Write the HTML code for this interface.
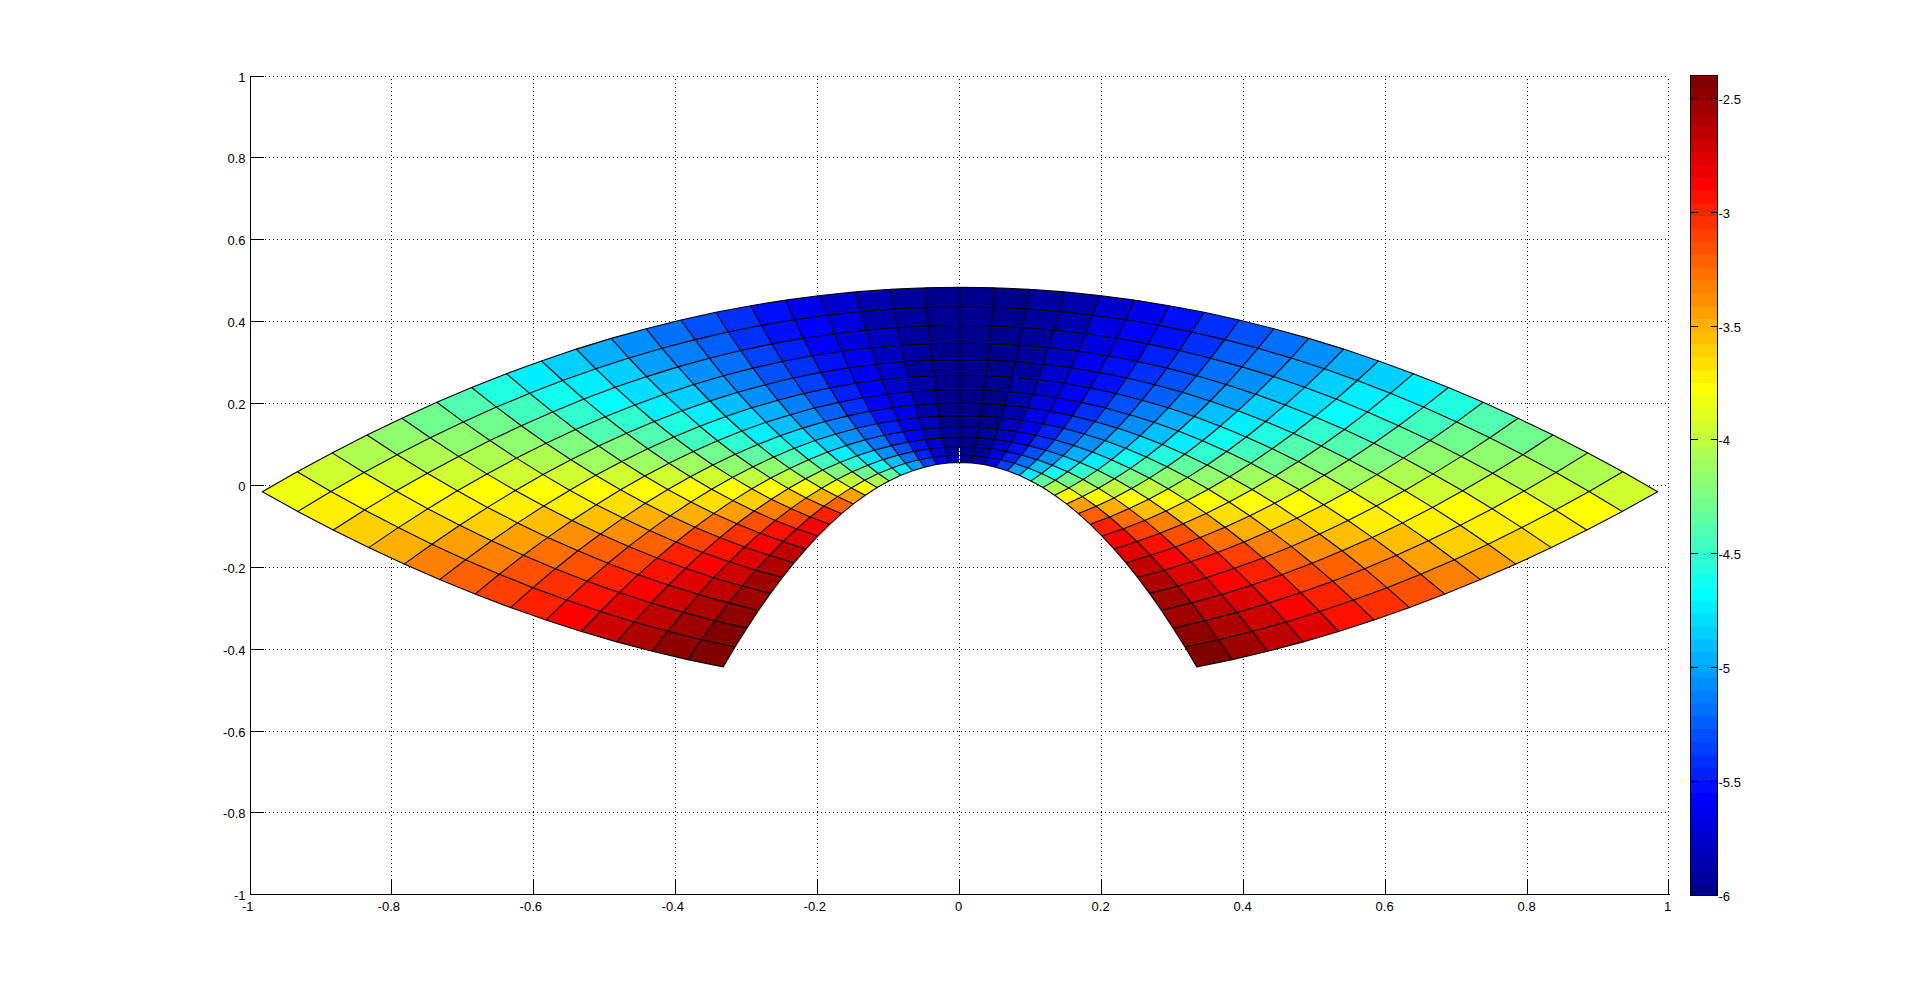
<!DOCTYPE html><html><head><meta charset="utf-8"><title>Figure</title><style>html,body{margin:0;padding:0;background:#fff}body{width:1921px;height:1004px;overflow:hidden;font-family:"Liberation Sans",sans-serif}svg{display:block}text{font-family:"Liberation Sans",sans-serif;font-size:13px;fill:#000}</style></head><body>
<svg width="1921" height="1004" viewBox="0 0 1921 1004">
<rect width="1921" height="1004" fill="#fff"/>
<path d="M391.5 79.0V879.5M533.5 79.0V879.5M675.5 79.0V879.5M817.5 79.0V879.5M959.5 79.0V879.5M1101.5 79.0V879.5M1243.5 79.0V879.5M1385.5 79.0V879.5M1527.5 79.0V879.5M1668.5 79.0V879.5M265.0 76.5H1668.5M265.0 157.5H1668.5M265.0 239.5H1668.5M265.0 321.5H1668.5M265.0 403.5H1668.5M265.0 485.5H1668.5M265.0 567.5H1668.5M265.0 649.5H1668.5M265.0 731.5H1668.5M265.0 812.5H1668.5" stroke="#000" stroke-width="1" stroke-dasharray="1 3" fill="none" shape-rendering="crispEdges"/>
<g stroke="none"><polygon points="723.2,667.0 735.0,647.0 701.4,639.7 687.7,659.6" fill="#800000"/><polygon points="735.0,647.0 746.9,628.1 715.0,620.8 701.4,639.7" fill="#800000"/><polygon points="746.9,628.1 758.7,610.2 728.6,602.9 715.0,620.8" fill="#8f0000"/><polygon points="758.7,610.2 770.5,593.4 742.2,586.0 728.6,602.9" fill="#9f0000"/><polygon points="770.5,593.4 782.4,577.5 755.8,570.2 742.2,586.0" fill="#9f0000"/><polygon points="782.4,577.5 794.2,562.7 769.4,555.3 755.8,570.2" fill="#af0000"/><polygon points="794.2,562.7 806.1,548.9 783.0,541.5 769.4,555.3" fill="#bf0000"/><polygon points="806.1,548.9 817.9,536.1 796.6,528.8 783.0,541.5" fill="#df0000"/><polygon points="817.9,536.1 829.8,524.3 810.3,517.0 796.6,528.8" fill="#ff0000"/><polygon points="829.8,524.3 841.6,513.6 823.9,506.3 810.3,517.0" fill="#ff2000"/><polygon points="841.6,513.6 853.4,503.9 837.5,496.6 823.9,506.3" fill="#ff6000"/><polygon points="853.4,503.9 865.3,495.2 851.1,487.9 837.5,496.6" fill="#ff9f00"/><polygon points="865.3,495.2 877.1,487.5 864.7,480.2 851.1,487.9" fill="#ffff00"/><polygon points="877.1,487.5 889.0,480.9 878.3,473.5 864.7,480.2" fill="#afff50"/><polygon points="889.0,480.9 900.8,475.3 891.9,467.9 878.3,473.5" fill="#60ff9f"/><polygon points="900.8,475.3 912.6,470.7 905.5,463.3 891.9,467.9" fill="#00efff"/><polygon points="912.6,470.7 924.5,467.1 919.2,459.7 905.5,463.3" fill="#009fff"/><polygon points="924.5,467.1 936.3,464.5 932.8,457.2 919.2,459.7" fill="#0040ff"/><polygon points="936.3,464.5 948.2,463.0 946.4,455.7 932.8,457.2" fill="#0000ef"/><polygon points="948.2,463.0 960.0,462.5 960.0,455.1 946.4,455.7" fill="#0000af"/><polygon points="960.0,462.5 971.8,463.0 973.6,455.7 960.0,455.1" fill="#00008f"/><polygon points="971.8,463.0 983.7,464.5 987.2,457.2 973.6,455.7" fill="#0000af"/><polygon points="983.7,464.5 995.5,467.1 1000.8,459.7 987.2,457.2" fill="#0000ef"/><polygon points="995.5,467.1 1007.4,470.7 1014.5,463.3 1000.8,459.7" fill="#0040ff"/><polygon points="1007.4,470.7 1019.2,475.3 1028.1,467.9 1014.5,463.3" fill="#009fff"/><polygon points="1019.2,475.3 1031.0,480.9 1041.7,473.5 1028.1,467.9" fill="#00efff"/><polygon points="1031.0,480.9 1042.9,487.5 1055.3,480.2 1041.7,473.5" fill="#60ff9f"/><polygon points="1042.9,487.5 1054.7,495.2 1068.9,487.9 1055.3,480.2" fill="#afff50"/><polygon points="1054.7,495.2 1066.6,503.9 1082.5,496.6 1068.9,487.9" fill="#ffff00"/><polygon points="1066.6,503.9 1078.4,513.6 1096.1,506.3 1082.5,496.6" fill="#ff9f00"/><polygon points="1078.4,513.6 1090.2,524.3 1109.7,517.0 1096.1,506.3" fill="#ff6000"/><polygon points="1090.2,524.3 1102.1,536.1 1123.4,528.8 1109.7,517.0" fill="#ff2000"/><polygon points="1102.1,536.1 1113.9,548.9 1137.0,541.5 1123.4,528.8" fill="#ff0000"/><polygon points="1113.9,548.9 1125.8,562.7 1150.6,555.3 1137.0,541.5" fill="#df0000"/><polygon points="1125.8,562.7 1137.6,577.5 1164.2,570.2 1150.6,555.3" fill="#bf0000"/><polygon points="1137.6,577.5 1149.5,593.4 1177.8,586.0 1164.2,570.2" fill="#af0000"/><polygon points="1149.5,593.4 1161.3,610.2 1191.4,602.9 1177.8,586.0" fill="#9f0000"/><polygon points="1161.3,610.2 1173.1,628.1 1205.0,620.8 1191.4,602.9" fill="#9f0000"/><polygon points="1173.1,628.1 1185.0,647.0 1218.6,639.7 1205.0,620.8" fill="#8f0000"/><polygon points="1185.0,647.0 1196.8,667.0 1232.3,659.6 1218.6,639.7" fill="#800000"/><polygon points="687.7,659.6 701.4,639.7 667.7,631.3 652.3,651.3" fill="#8f0000"/><polygon points="701.4,639.7 715.0,620.8 683.1,612.4 667.7,631.3" fill="#9f0000"/><polygon points="715.0,620.8 728.6,602.9 698.4,594.5 683.1,612.4" fill="#af0000"/><polygon points="728.6,602.9 742.2,586.0 713.8,577.7 698.4,594.5" fill="#bf0000"/><polygon points="742.2,586.0 755.8,570.2 729.2,561.8 713.8,577.7" fill="#cf0000"/><polygon points="755.8,570.2 769.4,555.3 744.6,547.0 729.2,561.8" fill="#df0000"/><polygon points="769.4,555.3 783.0,541.5 760.0,533.2 744.6,547.0" fill="#ff0000"/><polygon points="783.0,541.5 796.6,528.8 775.4,520.4 760.0,533.2" fill="#ff1000"/><polygon points="796.6,528.8 810.3,517.0 790.8,508.6 775.4,520.4" fill="#ff4000"/><polygon points="810.3,517.0 823.9,506.3 806.1,497.9 790.8,508.6" fill="#ff7000"/><polygon points="823.9,506.3 837.5,496.6 821.5,488.2 806.1,497.9" fill="#ffaf00"/><polygon points="837.5,496.6 851.1,487.9 836.9,479.5 821.5,488.2" fill="#ffff00"/><polygon points="851.1,487.9 864.7,480.2 852.3,471.8 836.9,479.5" fill="#bfff40"/><polygon points="864.7,480.2 878.3,473.5 867.7,465.2 852.3,471.8" fill="#70ff8f"/><polygon points="878.3,473.5 891.9,467.9 883.1,459.6 867.7,465.2" fill="#10ffef"/><polygon points="891.9,467.9 905.5,463.3 898.5,455.0 883.1,459.6" fill="#00bfff"/><polygon points="905.5,463.3 919.2,459.7 913.8,451.4 898.5,455.0" fill="#0070ff"/><polygon points="919.2,459.7 932.8,457.2 929.2,448.8 913.8,451.4" fill="#0020ff"/><polygon points="932.8,457.2 946.4,455.7 944.6,447.3 929.2,448.8" fill="#0000df"/><polygon points="946.4,455.7 960.0,455.1 960.0,446.8 944.6,447.3" fill="#00009f"/><polygon points="960.0,455.1 973.6,455.7 975.4,447.3 960.0,446.8" fill="#00008f"/><polygon points="973.6,455.7 987.2,457.2 990.8,448.8 975.4,447.3" fill="#00009f"/><polygon points="987.2,457.2 1000.8,459.7 1006.2,451.4 990.8,448.8" fill="#0000df"/><polygon points="1000.8,459.7 1014.5,463.3 1021.5,455.0 1006.2,451.4" fill="#0020ff"/><polygon points="1014.5,463.3 1028.1,467.9 1036.9,459.6 1021.5,455.0" fill="#0070ff"/><polygon points="1028.1,467.9 1041.7,473.5 1052.3,465.2 1036.9,459.6" fill="#00bfff"/><polygon points="1041.7,473.5 1055.3,480.2 1067.7,471.8 1052.3,465.2" fill="#10ffef"/><polygon points="1055.3,480.2 1068.9,487.9 1083.1,479.5 1067.7,471.8" fill="#70ff8f"/><polygon points="1068.9,487.9 1082.5,496.6 1098.5,488.2 1083.1,479.5" fill="#bfff40"/><polygon points="1082.5,496.6 1096.1,506.3 1113.9,497.9 1098.5,488.2" fill="#ffff00"/><polygon points="1096.1,506.3 1109.7,517.0 1129.2,508.6 1113.9,497.9" fill="#ffaf00"/><polygon points="1109.7,517.0 1123.4,528.8 1144.6,520.4 1129.2,508.6" fill="#ff7000"/><polygon points="1123.4,528.8 1137.0,541.5 1160.0,533.2 1144.6,520.4" fill="#ff4000"/><polygon points="1137.0,541.5 1150.6,555.3 1175.4,547.0 1160.0,533.2" fill="#ff1000"/><polygon points="1150.6,555.3 1164.2,570.2 1190.8,561.8 1175.4,547.0" fill="#ff0000"/><polygon points="1164.2,570.2 1177.8,586.0 1206.2,577.7 1190.8,561.8" fill="#df0000"/><polygon points="1177.8,586.0 1191.4,602.9 1221.6,594.5 1206.2,577.7" fill="#cf0000"/><polygon points="1191.4,602.9 1205.0,620.8 1236.9,612.4 1221.6,594.5" fill="#bf0000"/><polygon points="1205.0,620.8 1218.6,639.7 1252.3,631.3 1236.9,612.4" fill="#af0000"/><polygon points="1218.6,639.7 1232.3,659.6 1267.7,651.3 1252.3,631.3" fill="#9f0000"/><polygon points="652.3,651.3 667.7,631.3 634.0,622.0 616.8,641.9" fill="#af0000"/><polygon points="667.7,631.3 683.1,612.4 651.2,603.0 634.0,622.0" fill="#bf0000"/><polygon points="683.1,612.4 698.4,594.5 668.3,585.1 651.2,603.0" fill="#cf0000"/><polygon points="698.4,594.5 713.8,577.7 685.5,568.3 668.3,585.1" fill="#df0000"/><polygon points="713.8,577.7 729.2,561.8 702.6,552.4 685.5,568.3" fill="#ff0000"/><polygon points="729.2,561.8 744.6,547.0 719.8,537.6 702.6,552.4" fill="#ff1000"/><polygon points="744.6,547.0 760.0,533.2 736.9,523.8 719.8,537.6" fill="#ff3000"/><polygon points="760.0,533.2 775.4,520.4 754.1,511.0 736.9,523.8" fill="#ff5000"/><polygon points="775.4,520.4 790.8,508.6 771.3,499.3 754.1,511.0" fill="#ff8000"/><polygon points="790.8,508.6 806.1,497.9 788.4,488.5 771.3,499.3" fill="#ffbf00"/><polygon points="806.1,497.9 821.5,488.2 805.6,478.8 788.4,488.5" fill="#ffff00"/><polygon points="821.5,488.2 836.9,479.5 822.7,470.1 805.6,478.8" fill="#bfff40"/><polygon points="836.9,479.5 852.3,471.8 839.9,462.4 822.7,470.1" fill="#80ff80"/><polygon points="852.3,471.8 867.7,465.2 857.1,455.8 839.9,462.4" fill="#30ffcf"/><polygon points="867.7,465.2 883.1,459.6 874.2,450.2 857.1,455.8" fill="#00dfff"/><polygon points="883.1,459.6 898.5,455.0 891.4,445.6 874.2,450.2" fill="#008fff"/><polygon points="898.5,455.0 913.8,451.4 908.5,442.0 891.4,445.6" fill="#0050ff"/><polygon points="913.8,451.4 929.2,448.8 925.7,439.4 908.5,442.0" fill="#0010ff"/><polygon points="929.2,448.8 944.6,447.3 942.8,437.9 925.7,439.4" fill="#0000cf"/><polygon points="944.6,447.3 960.0,446.8 960.0,437.4 942.8,437.9" fill="#00009f"/><polygon points="960.0,446.8 975.4,447.3 977.2,437.9 960.0,437.4" fill="#00008f"/><polygon points="975.4,447.3 990.8,448.8 994.3,439.4 977.2,437.9" fill="#00009f"/><polygon points="990.8,448.8 1006.2,451.4 1011.5,442.0 994.3,439.4" fill="#0000cf"/><polygon points="1006.2,451.4 1021.5,455.0 1028.6,445.6 1011.5,442.0" fill="#0010ff"/><polygon points="1021.5,455.0 1036.9,459.6 1045.8,450.2 1028.6,445.6" fill="#0050ff"/><polygon points="1036.9,459.6 1052.3,465.2 1062.9,455.8 1045.8,450.2" fill="#008fff"/><polygon points="1052.3,465.2 1067.7,471.8 1080.1,462.4 1062.9,455.8" fill="#00dfff"/><polygon points="1067.7,471.8 1083.1,479.5 1097.3,470.1 1080.1,462.4" fill="#30ffcf"/><polygon points="1083.1,479.5 1098.5,488.2 1114.4,478.8 1097.3,470.1" fill="#80ff80"/><polygon points="1098.5,488.2 1113.9,497.9 1131.6,488.5 1114.4,478.8" fill="#bfff40"/><polygon points="1113.9,497.9 1129.2,508.6 1148.7,499.3 1131.6,488.5" fill="#ffff00"/><polygon points="1129.2,508.6 1144.6,520.4 1165.9,511.0 1148.7,499.3" fill="#ffbf00"/><polygon points="1144.6,520.4 1160.0,533.2 1183.1,523.8 1165.9,511.0" fill="#ff8000"/><polygon points="1160.0,533.2 1175.4,547.0 1200.2,537.6 1183.1,523.8" fill="#ff5000"/><polygon points="1175.4,547.0 1190.8,561.8 1217.4,552.4 1200.2,537.6" fill="#ff3000"/><polygon points="1190.8,561.8 1206.2,577.7 1234.5,568.3 1217.4,552.4" fill="#ff1000"/><polygon points="1206.2,577.7 1221.6,594.5 1251.7,585.1 1234.5,568.3" fill="#ff0000"/><polygon points="1221.6,594.5 1236.9,612.4 1268.8,603.0 1251.7,585.1" fill="#df0000"/><polygon points="1236.9,612.4 1252.3,631.3 1286.0,622.0 1268.8,603.0" fill="#cf0000"/><polygon points="1252.3,631.3 1267.7,651.3 1303.2,641.9 1286.0,622.0" fill="#bf0000"/><polygon points="616.8,641.9 634.0,622.0 600.3,611.5 581.4,631.5" fill="#cf0000"/><polygon points="634.0,622.0 651.2,603.0 619.2,592.6 600.3,611.5" fill="#df0000"/><polygon points="651.2,603.0 668.3,585.1 638.2,574.7 619.2,592.6" fill="#ff0000"/><polygon points="668.3,585.1 685.5,568.3 657.1,557.9 638.2,574.7" fill="#ff1000"/><polygon points="685.5,568.3 702.6,552.4 676.0,542.0 657.1,557.9" fill="#ff2000"/><polygon points="702.6,552.4 719.8,537.6 695.0,527.2 676.0,542.0" fill="#ff4000"/><polygon points="719.8,537.6 736.9,523.8 713.9,513.4 695.0,527.2" fill="#ff7000"/><polygon points="736.9,523.8 754.1,511.0 732.8,500.6 713.9,513.4" fill="#ff9f00"/><polygon points="754.1,511.0 771.3,499.3 751.8,488.8 732.8,500.6" fill="#ffcf00"/><polygon points="771.3,499.3 788.4,488.5 770.7,478.1 751.8,488.8" fill="#ffff00"/><polygon points="788.4,488.5 805.6,478.8 789.6,468.4 770.7,478.1" fill="#bfff40"/><polygon points="805.6,478.8 822.7,470.1 808.6,459.7 789.6,468.4" fill="#80ff80"/><polygon points="822.7,470.1 839.9,462.4 827.5,452.0 808.6,459.7" fill="#40ffbf"/><polygon points="839.9,462.4 857.1,455.8 846.4,445.4 827.5,452.0" fill="#00efff"/><polygon points="857.1,455.8 874.2,450.2 865.3,439.8 846.4,445.4" fill="#00afff"/><polygon points="874.2,450.2 891.4,445.6 884.3,435.2 865.3,439.8" fill="#0070ff"/><polygon points="891.4,445.6 908.5,442.0 903.2,431.6 884.3,435.2" fill="#0030ff"/><polygon points="908.5,442.0 925.7,439.4 922.1,429.0 903.2,431.6" fill="#0000ff"/><polygon points="925.7,439.4 942.8,437.9 941.1,427.5 922.1,429.0" fill="#0000bf"/><polygon points="942.8,437.9 960.0,437.4 960.0,427.0 941.1,427.5" fill="#00009f"/><polygon points="960.0,437.4 977.2,437.9 978.9,427.5 960.0,427.0" fill="#00008f"/><polygon points="977.2,437.9 994.3,439.4 997.9,429.0 978.9,427.5" fill="#00009f"/><polygon points="994.3,439.4 1011.5,442.0 1016.8,431.6 997.9,429.0" fill="#0000bf"/><polygon points="1011.5,442.0 1028.6,445.6 1035.7,435.2 1016.8,431.6" fill="#0000ff"/><polygon points="1028.6,445.6 1045.8,450.2 1054.7,439.8 1035.7,435.2" fill="#0030ff"/><polygon points="1045.8,450.2 1062.9,455.8 1073.6,445.4 1054.7,439.8" fill="#0070ff"/><polygon points="1062.9,455.8 1080.1,462.4 1092.5,452.0 1073.6,445.4" fill="#00afff"/><polygon points="1080.1,462.4 1097.3,470.1 1111.4,459.7 1092.5,452.0" fill="#00efff"/><polygon points="1097.3,470.1 1114.4,478.8 1130.4,468.4 1111.4,459.7" fill="#40ffbf"/><polygon points="1114.4,478.8 1131.6,488.5 1149.3,478.1 1130.4,468.4" fill="#80ff80"/><polygon points="1131.6,488.5 1148.7,499.3 1168.2,488.8 1149.3,478.1" fill="#bfff40"/><polygon points="1148.7,499.3 1165.9,511.0 1187.2,500.6 1168.2,488.8" fill="#ffff00"/><polygon points="1165.9,511.0 1183.1,523.8 1206.1,513.4 1187.2,500.6" fill="#ffcf00"/><polygon points="1183.1,523.8 1200.2,537.6 1225.0,527.2 1206.1,513.4" fill="#ff9f00"/><polygon points="1200.2,537.6 1217.4,552.4 1244.0,542.0 1225.0,527.2" fill="#ff7000"/><polygon points="1217.4,552.4 1234.5,568.3 1262.9,557.9 1244.0,542.0" fill="#ff4000"/><polygon points="1234.5,568.3 1251.7,585.1 1281.8,574.7 1262.9,557.9" fill="#ff2000"/><polygon points="1251.7,585.1 1268.8,603.0 1300.8,592.6 1281.8,574.7" fill="#ff1000"/><polygon points="1268.8,603.0 1286.0,622.0 1319.7,611.5 1300.8,592.6" fill="#ff0000"/><polygon points="1286.0,622.0 1303.2,641.9 1338.6,631.5 1319.7,611.5" fill="#df0000"/><polygon points="581.4,631.5 600.3,611.5 566.6,600.1 545.9,620.1" fill="#ff0000"/><polygon points="600.3,611.5 619.2,592.6 587.3,581.2 566.6,600.1" fill="#ff1000"/><polygon points="619.2,592.6 638.2,574.7 608.0,563.3 587.3,581.2" fill="#ff2000"/><polygon points="638.2,574.7 657.1,557.9 628.7,546.4 608.0,563.3" fill="#ff4000"/><polygon points="657.1,557.9 676.0,542.0 649.5,530.6 628.7,546.4" fill="#ff6000"/><polygon points="676.0,542.0 695.0,527.2 670.2,515.8 649.5,530.6" fill="#ff8000"/><polygon points="695.0,527.2 713.9,513.4 690.9,502.0 670.2,515.8" fill="#ffaf00"/><polygon points="713.9,513.4 732.8,500.6 711.6,489.2 690.9,502.0" fill="#ffdf00"/><polygon points="732.8,500.6 751.8,488.8 732.3,477.4 711.6,489.2" fill="#ffff00"/><polygon points="751.8,488.8 770.7,478.1 753.0,466.7 732.3,477.4" fill="#bfff40"/><polygon points="770.7,478.1 789.6,468.4 773.7,457.0 753.0,466.7" fill="#8fff70"/><polygon points="789.6,468.4 808.6,459.7 794.4,448.3 773.7,457.0" fill="#50ffaf"/><polygon points="808.6,459.7 827.5,452.0 815.1,440.6 794.4,448.3" fill="#10ffef"/><polygon points="827.5,452.0 846.4,445.4 835.8,434.0 815.1,440.6" fill="#00cfff"/><polygon points="846.4,445.4 865.3,439.8 856.5,428.3 835.8,434.0" fill="#008fff"/><polygon points="865.3,439.8 884.3,435.2 877.2,423.7 856.5,428.3" fill="#0060ff"/><polygon points="884.3,435.2 903.2,431.6 897.9,420.2 877.2,423.7" fill="#0020ff"/><polygon points="903.2,431.6 922.1,429.0 918.6,417.6 897.9,420.2" fill="#0000ef"/><polygon points="922.1,429.0 941.1,427.5 939.3,416.1 918.6,417.6" fill="#0000bf"/><polygon points="941.1,427.5 960.0,427.0 960.0,415.6 939.3,416.1" fill="#00008f"/><polygon points="960.0,427.0 978.9,427.5 980.7,416.1 960.0,415.6" fill="#00008f"/><polygon points="978.9,427.5 997.9,429.0 1001.4,417.6 980.7,416.1" fill="#00008f"/><polygon points="997.9,429.0 1016.8,431.6 1022.1,420.2 1001.4,417.6" fill="#0000bf"/><polygon points="1016.8,431.6 1035.7,435.2 1042.8,423.7 1022.1,420.2" fill="#0000ef"/><polygon points="1035.7,435.2 1054.7,439.8 1063.5,428.3 1042.8,423.7" fill="#0020ff"/><polygon points="1054.7,439.8 1073.6,445.4 1084.2,434.0 1063.5,428.3" fill="#0060ff"/><polygon points="1073.6,445.4 1092.5,452.0 1104.9,440.6 1084.2,434.0" fill="#008fff"/><polygon points="1092.5,452.0 1111.4,459.7 1125.6,448.3 1104.9,440.6" fill="#00cfff"/><polygon points="1111.4,459.7 1130.4,468.4 1146.3,457.0 1125.6,448.3" fill="#10ffef"/><polygon points="1130.4,468.4 1149.3,478.1 1167.0,466.7 1146.3,457.0" fill="#50ffaf"/><polygon points="1149.3,478.1 1168.2,488.8 1187.7,477.4 1167.0,466.7" fill="#8fff70"/><polygon points="1168.2,488.8 1187.2,500.6 1208.4,489.2 1187.7,477.4" fill="#bfff40"/><polygon points="1187.2,500.6 1206.1,513.4 1229.1,502.0 1208.4,489.2" fill="#ffff00"/><polygon points="1206.1,513.4 1225.0,527.2 1249.8,515.8 1229.1,502.0" fill="#ffdf00"/><polygon points="1225.0,527.2 1244.0,542.0 1270.5,530.6 1249.8,515.8" fill="#ffaf00"/><polygon points="1244.0,542.0 1262.9,557.9 1291.3,546.4 1270.5,530.6" fill="#ff8000"/><polygon points="1262.9,557.9 1281.8,574.7 1312.0,563.3 1291.3,546.4" fill="#ff6000"/><polygon points="1281.8,574.7 1300.8,592.6 1332.7,581.2 1312.0,563.3" fill="#ff4000"/><polygon points="1300.8,592.6 1319.7,611.5 1353.4,600.1 1332.7,581.2" fill="#ff2000"/><polygon points="1319.7,611.5 1338.6,631.5 1374.1,620.1 1353.4,600.1" fill="#ff1000"/><polygon points="545.9,620.1 566.6,600.1 533.0,587.7 510.5,607.6" fill="#ff2000"/><polygon points="566.6,600.1 587.3,581.2 555.4,568.7 533.0,587.7" fill="#ff3000"/><polygon points="587.3,581.2 608.0,563.3 577.9,550.8 555.4,568.7" fill="#ff5000"/><polygon points="608.0,563.3 628.7,546.4 600.4,534.0 577.9,550.8" fill="#ff6000"/><polygon points="628.7,546.4 649.5,530.6 622.9,518.1 600.4,534.0" fill="#ff8f00"/><polygon points="649.5,530.6 670.2,515.8 645.3,503.3 622.9,518.1" fill="#ffaf00"/><polygon points="670.2,515.8 690.9,502.0 667.8,489.5 645.3,503.3" fill="#ffdf00"/><polygon points="690.9,502.0 711.6,489.2 690.3,476.7 667.8,489.5" fill="#ffff00"/><polygon points="711.6,489.2 732.3,477.4 712.8,465.0 690.3,476.7" fill="#cfff30"/><polygon points="732.3,477.4 753.0,466.7 735.2,454.2 712.8,465.0" fill="#8fff70"/><polygon points="753.0,466.7 773.7,457.0 757.7,444.5 735.2,454.2" fill="#60ff9f"/><polygon points="773.7,457.0 794.4,448.3 780.2,435.8 757.7,444.5" fill="#20ffdf"/><polygon points="794.4,448.3 815.1,440.6 802.7,428.1 780.2,435.8" fill="#00dfff"/><polygon points="815.1,440.6 835.8,434.0 825.1,421.5 802.7,428.1" fill="#00afff"/><polygon points="835.8,434.0 856.5,428.3 847.6,415.9 825.1,421.5" fill="#0080ff"/><polygon points="856.5,428.3 877.2,423.7 870.1,411.3 847.6,415.9" fill="#0040ff"/><polygon points="877.2,423.7 897.9,420.2 892.6,407.7 870.1,411.3" fill="#0010ff"/><polygon points="897.9,420.2 918.6,417.6 915.0,405.1 892.6,407.7" fill="#0000ef"/><polygon points="918.6,417.6 939.3,416.1 937.5,403.6 915.0,405.1" fill="#0000af"/><polygon points="939.3,416.1 960.0,415.6 960.0,403.1 937.5,403.6" fill="#00008f"/><polygon points="960.0,415.6 980.7,416.1 982.5,403.6 960.0,403.1" fill="#00008f"/><polygon points="980.7,416.1 1001.4,417.6 1005.0,405.1 982.5,403.6" fill="#00008f"/><polygon points="1001.4,417.6 1022.1,420.2 1027.4,407.7 1005.0,405.1" fill="#0000af"/><polygon points="1022.1,420.2 1042.8,423.7 1049.9,411.3 1027.4,407.7" fill="#0000ef"/><polygon points="1042.8,423.7 1063.5,428.3 1072.4,415.9 1049.9,411.3" fill="#0010ff"/><polygon points="1063.5,428.3 1084.2,434.0 1094.9,421.5 1072.4,415.9" fill="#0040ff"/><polygon points="1084.2,434.0 1104.9,440.6 1117.3,428.1 1094.9,421.5" fill="#0080ff"/><polygon points="1104.9,440.6 1125.6,448.3 1139.8,435.8 1117.3,428.1" fill="#00afff"/><polygon points="1125.6,448.3 1146.3,457.0 1162.3,444.5 1139.8,435.8" fill="#00dfff"/><polygon points="1146.3,457.0 1167.0,466.7 1184.8,454.2 1162.3,444.5" fill="#20ffdf"/><polygon points="1167.0,466.7 1187.7,477.4 1207.2,465.0 1184.8,454.2" fill="#60ff9f"/><polygon points="1187.7,477.4 1208.4,489.2 1229.7,476.7 1207.2,465.0" fill="#8fff70"/><polygon points="1208.4,489.2 1229.1,502.0 1252.2,489.5 1229.7,476.7" fill="#cfff30"/><polygon points="1229.1,502.0 1249.8,515.8 1274.7,503.3 1252.2,489.5" fill="#ffff00"/><polygon points="1249.8,515.8 1270.5,530.6 1297.1,518.1 1274.7,503.3" fill="#ffdf00"/><polygon points="1270.5,530.6 1291.3,546.4 1319.6,534.0 1297.1,518.1" fill="#ffaf00"/><polygon points="1291.3,546.4 1312.0,563.3 1342.1,550.8 1319.6,534.0" fill="#ff8f00"/><polygon points="1312.0,563.3 1332.7,581.2 1364.6,568.7 1342.1,550.8" fill="#ff6000"/><polygon points="1332.7,581.2 1353.4,600.1 1387.0,587.7 1364.6,568.7" fill="#ff5000"/><polygon points="1353.4,600.1 1374.1,620.1 1409.5,607.6 1387.0,587.7" fill="#ff3000"/><polygon points="510.5,607.6 533.0,587.7 499.3,574.2 475.0,594.1" fill="#ff4000"/><polygon points="533.0,587.7 555.4,568.7 523.5,555.3 499.3,574.2" fill="#ff5000"/><polygon points="555.4,568.7 577.9,550.8 547.8,537.4 523.5,555.3" fill="#ff7000"/><polygon points="577.9,550.8 600.4,534.0 572.0,520.5 547.8,537.4" fill="#ff8f00"/><polygon points="600.4,534.0 622.9,518.1 596.3,504.7 572.0,520.5" fill="#ffbf00"/><polygon points="622.9,518.1 645.3,503.3 620.5,489.8 596.3,504.7" fill="#ffdf00"/><polygon points="645.3,503.3 667.8,489.5 644.8,476.0 620.5,489.8" fill="#ffff00"/><polygon points="667.8,489.5 690.3,476.7 669.0,463.2 644.8,476.0" fill="#cfff30"/><polygon points="690.3,476.7 712.8,465.0 693.3,451.5 669.0,463.2" fill="#9fff60"/><polygon points="712.8,465.0 735.2,454.2 717.5,440.7 693.3,451.5" fill="#70ff8f"/><polygon points="735.2,454.2 757.7,444.5 741.8,431.0 717.5,440.7" fill="#30ffcf"/><polygon points="757.7,444.5 780.2,435.8 766.0,422.3 741.8,431.0" fill="#00efff"/><polygon points="780.2,435.8 802.7,428.1 790.3,414.7 766.0,422.3" fill="#00bfff"/><polygon points="802.7,428.1 825.1,421.5 814.5,408.0 790.3,414.7" fill="#008fff"/><polygon points="825.1,421.5 847.6,415.9 838.8,402.4 814.5,408.0" fill="#0060ff"/><polygon points="847.6,415.9 870.1,411.3 863.0,397.8 838.8,402.4" fill="#0030ff"/><polygon points="870.1,411.3 892.6,407.7 887.3,394.2 863.0,397.8" fill="#0000ff"/><polygon points="892.6,407.7 915.0,405.1 911.5,391.7 887.3,394.2" fill="#0000df"/><polygon points="915.0,405.1 937.5,403.6 935.8,390.1 911.5,391.7" fill="#0000af"/><polygon points="937.5,403.6 960.0,403.1 960.0,389.6 935.8,390.1" fill="#00008f"/><polygon points="960.0,403.1 982.5,403.6 984.2,390.1 960.0,389.6" fill="#00008f"/><polygon points="982.5,403.6 1005.0,405.1 1008.5,391.7 984.2,390.1" fill="#00008f"/><polygon points="1005.0,405.1 1027.4,407.7 1032.7,394.2 1008.5,391.7" fill="#0000af"/><polygon points="1027.4,407.7 1049.9,411.3 1057.0,397.8 1032.7,394.2" fill="#0000df"/><polygon points="1049.9,411.3 1072.4,415.9 1081.2,402.4 1057.0,397.8" fill="#0000ff"/><polygon points="1072.4,415.9 1094.9,421.5 1105.5,408.0 1081.2,402.4" fill="#0030ff"/><polygon points="1094.9,421.5 1117.3,428.1 1129.7,414.7 1105.5,408.0" fill="#0060ff"/><polygon points="1117.3,428.1 1139.8,435.8 1154.0,422.3 1129.7,414.7" fill="#008fff"/><polygon points="1139.8,435.8 1162.3,444.5 1178.2,431.0 1154.0,422.3" fill="#00bfff"/><polygon points="1162.3,444.5 1184.8,454.2 1202.5,440.7 1178.2,431.0" fill="#00efff"/><polygon points="1184.8,454.2 1207.2,465.0 1226.7,451.5 1202.5,440.7" fill="#30ffcf"/><polygon points="1207.2,465.0 1229.7,476.7 1251.0,463.2 1226.7,451.5" fill="#70ff8f"/><polygon points="1229.7,476.7 1252.2,489.5 1275.2,476.0 1251.0,463.2" fill="#9fff60"/><polygon points="1252.2,489.5 1274.7,503.3 1299.5,489.8 1275.2,476.0" fill="#cfff30"/><polygon points="1274.7,503.3 1297.1,518.1 1323.7,504.7 1299.5,489.8" fill="#ffff00"/><polygon points="1297.1,518.1 1319.6,534.0 1348.0,520.5 1323.7,504.7" fill="#ffdf00"/><polygon points="1319.6,534.0 1342.1,550.8 1372.2,537.4 1348.0,520.5" fill="#ffbf00"/><polygon points="1342.1,550.8 1364.6,568.7 1396.5,555.3 1372.2,537.4" fill="#ff8f00"/><polygon points="1364.6,568.7 1387.0,587.7 1420.7,574.2 1396.5,555.3" fill="#ff7000"/><polygon points="1387.0,587.7 1409.5,607.6 1445.0,594.1 1420.7,574.2" fill="#ff5000"/><polygon points="475.0,594.1 499.3,574.2 465.6,559.7 439.6,579.6" fill="#ff6000"/><polygon points="499.3,574.2 523.5,555.3 491.6,540.8 465.6,559.7" fill="#ff8000"/><polygon points="523.5,555.3 547.8,537.4 517.6,522.9 491.6,540.8" fill="#ff9f00"/><polygon points="547.8,537.4 572.0,520.5 543.7,506.0 517.6,522.9" fill="#ffbf00"/><polygon points="572.0,520.5 596.3,504.7 569.7,490.2 543.7,506.0" fill="#ffef00"/><polygon points="596.3,504.7 620.5,489.8 595.7,475.3 569.7,490.2" fill="#ffff00"/><polygon points="620.5,489.8 644.8,476.0 621.7,461.5 595.7,475.3" fill="#cfff30"/><polygon points="644.8,476.0 669.0,463.2 647.8,448.7 621.7,461.5" fill="#9fff60"/><polygon points="669.0,463.2 693.3,451.5 673.8,437.0 647.8,448.7" fill="#70ff8f"/><polygon points="693.3,451.5 717.5,440.7 699.8,426.2 673.8,437.0" fill="#40ffbf"/><polygon points="717.5,440.7 741.8,431.0 725.8,416.5 699.8,426.2" fill="#10ffef"/><polygon points="741.8,431.0 766.0,422.3 751.8,407.8 725.8,416.5" fill="#00dfff"/><polygon points="766.0,422.3 790.3,414.7 777.9,400.2 751.8,407.8" fill="#00afff"/><polygon points="790.3,414.7 814.5,408.0 803.9,393.5 777.9,400.2" fill="#0080ff"/><polygon points="814.5,408.0 838.8,402.4 829.9,387.9 803.9,393.5" fill="#0050ff"/><polygon points="838.8,402.4 863.0,397.8 855.9,383.3 829.9,387.9" fill="#0020ff"/><polygon points="863.0,397.8 887.3,394.2 881.9,379.7 855.9,383.3" fill="#0000ff"/><polygon points="887.3,394.2 911.5,391.7 908.0,377.2 881.9,379.7" fill="#0000cf"/><polygon points="911.5,391.7 935.8,390.1 934.0,375.6 908.0,377.2" fill="#0000af"/><polygon points="935.8,390.1 960.0,389.6 960.0,375.1 934.0,375.6" fill="#00008f"/><polygon points="960.0,389.6 984.2,390.1 986.0,375.6 960.0,375.1" fill="#00008f"/><polygon points="984.2,390.1 1008.5,391.7 1012.0,377.2 986.0,375.6" fill="#00008f"/><polygon points="1008.5,391.7 1032.7,394.2 1038.1,379.7 1012.0,377.2" fill="#0000af"/><polygon points="1032.7,394.2 1057.0,397.8 1064.1,383.3 1038.1,379.7" fill="#0000cf"/><polygon points="1057.0,397.8 1081.2,402.4 1090.1,387.9 1064.1,383.3" fill="#0000ff"/><polygon points="1081.2,402.4 1105.5,408.0 1116.1,393.5 1090.1,387.9" fill="#0020ff"/><polygon points="1105.5,408.0 1129.7,414.7 1142.1,400.2 1116.1,393.5" fill="#0050ff"/><polygon points="1129.7,414.7 1154.0,422.3 1168.2,407.8 1142.1,400.2" fill="#0080ff"/><polygon points="1154.0,422.3 1178.2,431.0 1194.2,416.5 1168.2,407.8" fill="#00afff"/><polygon points="1178.2,431.0 1202.5,440.7 1220.2,426.2 1194.2,416.5" fill="#00dfff"/><polygon points="1202.5,440.7 1226.7,451.5 1246.2,437.0 1220.2,426.2" fill="#10ffef"/><polygon points="1226.7,451.5 1251.0,463.2 1272.2,448.7 1246.2,437.0" fill="#40ffbf"/><polygon points="1251.0,463.2 1275.2,476.0 1298.3,461.5 1272.2,448.7" fill="#70ff8f"/><polygon points="1275.2,476.0 1299.5,489.8 1324.3,475.3 1298.3,461.5" fill="#9fff60"/><polygon points="1299.5,489.8 1323.7,504.7 1350.3,490.2 1324.3,475.3" fill="#cfff30"/><polygon points="1323.7,504.7 1348.0,520.5 1376.3,506.0 1350.3,490.2" fill="#ffff00"/><polygon points="1348.0,520.5 1372.2,537.4 1402.4,522.9 1376.3,506.0" fill="#ffef00"/><polygon points="1372.2,537.4 1396.5,555.3 1428.4,540.8 1402.4,522.9" fill="#ffbf00"/><polygon points="1396.5,555.3 1420.7,574.2 1454.4,559.7 1428.4,540.8" fill="#ff9f00"/><polygon points="1420.7,574.2 1445.0,594.1 1480.4,579.6 1454.4,559.7" fill="#ff8000"/><polygon points="439.6,579.6 465.6,559.7 431.9,544.2 404.1,564.1" fill="#ff8000"/><polygon points="465.6,559.7 491.6,540.8 459.7,525.2 431.9,544.2" fill="#ff9f00"/><polygon points="491.6,540.8 517.6,522.9 487.5,507.4 459.7,525.2" fill="#ffcf00"/><polygon points="517.6,522.9 543.7,506.0 515.3,490.5 487.5,507.4" fill="#ffef00"/><polygon points="543.7,506.0 569.7,490.2 543.1,474.6 515.3,490.5" fill="#ffff00"/><polygon points="569.7,490.2 595.7,475.3 570.9,459.8 543.1,474.6" fill="#cfff30"/><polygon points="595.7,475.3 621.7,461.5 598.7,446.0 570.9,459.8" fill="#9fff60"/><polygon points="621.7,461.5 647.8,448.7 626.5,433.2 598.7,446.0" fill="#80ff80"/><polygon points="647.8,448.7 673.8,437.0 654.3,421.5 626.5,433.2" fill="#50ffaf"/><polygon points="673.8,437.0 699.8,426.2 682.1,410.7 654.3,421.5" fill="#20ffdf"/><polygon points="699.8,426.2 725.8,416.5 709.9,401.0 682.1,410.7" fill="#00efff"/><polygon points="725.8,416.5 751.8,407.8 737.7,392.3 709.9,401.0" fill="#00bfff"/><polygon points="751.8,407.8 777.9,400.2 765.4,384.7 737.7,392.3" fill="#008fff"/><polygon points="777.9,400.2 803.9,393.5 793.2,378.0 765.4,384.7" fill="#0060ff"/><polygon points="803.9,393.5 829.9,387.9 821.0,372.4 793.2,378.0" fill="#0040ff"/><polygon points="829.9,387.9 855.9,383.3 848.8,367.8 821.0,372.4" fill="#0010ff"/><polygon points="855.9,383.3 881.9,379.7 876.6,364.2 848.8,367.8" fill="#0000ef"/><polygon points="881.9,379.7 908.0,377.2 904.4,361.6 876.6,364.2" fill="#0000cf"/><polygon points="908.0,377.2 934.0,375.6 932.2,360.1 904.4,361.6" fill="#00009f"/><polygon points="934.0,375.6 960.0,375.1 960.0,359.6 932.2,360.1" fill="#00008f"/><polygon points="960.0,375.1 986.0,375.6 987.8,360.1 960.0,359.6" fill="#00008f"/><polygon points="986.0,375.6 1012.0,377.2 1015.6,361.6 987.8,360.1" fill="#00008f"/><polygon points="1012.0,377.2 1038.1,379.7 1043.4,364.2 1015.6,361.6" fill="#00009f"/><polygon points="1038.1,379.7 1064.1,383.3 1071.2,367.8 1043.4,364.2" fill="#0000cf"/><polygon points="1064.1,383.3 1090.1,387.9 1099.0,372.4 1071.2,367.8" fill="#0000ef"/><polygon points="1090.1,387.9 1116.1,393.5 1126.8,378.0 1099.0,372.4" fill="#0010ff"/><polygon points="1116.1,393.5 1142.1,400.2 1154.6,384.7 1126.8,378.0" fill="#0040ff"/><polygon points="1142.1,400.2 1168.2,407.8 1182.3,392.3 1154.6,384.7" fill="#0060ff"/><polygon points="1168.2,407.8 1194.2,416.5 1210.1,401.0 1182.3,392.3" fill="#008fff"/><polygon points="1194.2,416.5 1220.2,426.2 1237.9,410.7 1210.1,401.0" fill="#00bfff"/><polygon points="1220.2,426.2 1246.2,437.0 1265.7,421.5 1237.9,410.7" fill="#00efff"/><polygon points="1246.2,437.0 1272.2,448.7 1293.5,433.2 1265.7,421.5" fill="#20ffdf"/><polygon points="1272.2,448.7 1298.3,461.5 1321.3,446.0 1293.5,433.2" fill="#50ffaf"/><polygon points="1298.3,461.5 1324.3,475.3 1349.1,459.8 1321.3,446.0" fill="#80ff80"/><polygon points="1324.3,475.3 1350.3,490.2 1376.9,474.6 1349.1,459.8" fill="#9fff60"/><polygon points="1350.3,490.2 1376.3,506.0 1404.7,490.5 1376.9,474.6" fill="#cfff30"/><polygon points="1376.3,506.0 1402.4,522.9 1432.5,507.4 1404.7,490.5" fill="#ffff00"/><polygon points="1402.4,522.9 1428.4,540.8 1460.3,525.2 1432.5,507.4" fill="#ffef00"/><polygon points="1428.4,540.8 1454.4,559.7 1488.1,544.2 1460.3,525.2" fill="#ffcf00"/><polygon points="1454.4,559.7 1480.4,579.6 1515.9,564.1 1488.1,544.2" fill="#ff9f00"/><polygon points="404.1,564.1 431.9,544.2 398.3,527.6 368.7,547.6" fill="#ffaf00"/><polygon points="431.9,544.2 459.7,525.2 427.8,508.7 398.3,527.6" fill="#ffcf00"/><polygon points="459.7,525.2 487.5,507.4 457.4,490.8 427.8,508.7" fill="#ffef00"/><polygon points="487.5,507.4 515.3,490.5 486.9,473.9 457.4,490.8" fill="#ffff00"/><polygon points="515.3,490.5 543.1,474.6 516.5,458.1 486.9,473.9" fill="#cfff30"/><polygon points="543.1,474.6 570.9,459.8 546.1,443.3 516.5,458.1" fill="#afff50"/><polygon points="570.9,459.8 598.7,446.0 575.6,429.5 546.1,443.3" fill="#80ff80"/><polygon points="598.7,446.0 626.5,433.2 605.2,416.7 575.6,429.5" fill="#50ffaf"/><polygon points="626.5,433.2 654.3,421.5 634.8,404.9 605.2,416.7" fill="#30ffcf"/><polygon points="654.3,421.5 682.1,410.7 664.3,394.2 634.8,404.9" fill="#00efff"/><polygon points="682.1,410.7 709.9,401.0 693.9,384.5 664.3,394.2" fill="#00cfff"/><polygon points="709.9,401.0 737.7,392.3 723.5,375.8 693.9,384.5" fill="#009fff"/><polygon points="737.7,392.3 765.4,384.7 753.0,368.1 723.5,375.8" fill="#0080ff"/><polygon points="765.4,384.7 793.2,378.0 782.6,361.5 753.0,368.1" fill="#0050ff"/><polygon points="793.2,378.0 821.0,372.4 812.2,355.8 782.6,361.5" fill="#0030ff"/><polygon points="821.0,372.4 848.8,367.8 841.7,351.2 812.2,355.8" fill="#0010ff"/><polygon points="848.8,367.8 876.6,364.2 871.3,347.7 841.7,351.2" fill="#0000ef"/><polygon points="876.6,364.2 904.4,361.6 900.9,345.1 871.3,347.7" fill="#0000bf"/><polygon points="904.4,361.6 932.2,360.1 930.4,343.6 900.9,345.1" fill="#00009f"/><polygon points="932.2,360.1 960.0,359.6 960.0,343.1 930.4,343.6" fill="#00008f"/><polygon points="960.0,359.6 987.8,360.1 989.6,343.6 960.0,343.1" fill="#00008f"/><polygon points="987.8,360.1 1015.6,361.6 1019.1,345.1 989.6,343.6" fill="#00008f"/><polygon points="1015.6,361.6 1043.4,364.2 1048.7,347.7 1019.1,345.1" fill="#00009f"/><polygon points="1043.4,364.2 1071.2,367.8 1078.3,351.2 1048.7,347.7" fill="#0000bf"/><polygon points="1071.2,367.8 1099.0,372.4 1107.8,355.8 1078.3,351.2" fill="#0000ef"/><polygon points="1099.0,372.4 1126.8,378.0 1137.4,361.5 1107.8,355.8" fill="#0010ff"/><polygon points="1126.8,378.0 1154.6,384.7 1167.0,368.1 1137.4,361.5" fill="#0030ff"/><polygon points="1154.6,384.7 1182.3,392.3 1196.5,375.8 1167.0,368.1" fill="#0050ff"/><polygon points="1182.3,392.3 1210.1,401.0 1226.1,384.5 1196.5,375.8" fill="#0080ff"/><polygon points="1210.1,401.0 1237.9,410.7 1255.7,394.2 1226.1,384.5" fill="#009fff"/><polygon points="1237.9,410.7 1265.7,421.5 1285.2,404.9 1255.7,394.2" fill="#00cfff"/><polygon points="1265.7,421.5 1293.5,433.2 1314.8,416.7 1285.2,404.9" fill="#00efff"/><polygon points="1293.5,433.2 1321.3,446.0 1344.4,429.5 1314.8,416.7" fill="#30ffcf"/><polygon points="1321.3,446.0 1349.1,459.8 1373.9,443.3 1344.4,429.5" fill="#50ffaf"/><polygon points="1349.1,459.8 1376.9,474.6 1403.5,458.1 1373.9,443.3" fill="#80ff80"/><polygon points="1376.9,474.6 1404.7,490.5 1433.1,473.9 1403.5,458.1" fill="#afff50"/><polygon points="1404.7,490.5 1432.5,507.4 1462.6,490.8 1433.1,473.9" fill="#cfff30"/><polygon points="1432.5,507.4 1460.3,525.2 1492.2,508.7 1462.6,490.8" fill="#ffff00"/><polygon points="1460.3,525.2 1488.1,544.2 1521.7,527.6 1492.2,508.7" fill="#ffef00"/><polygon points="1488.1,544.2 1515.9,564.1 1551.3,547.6 1521.7,527.6" fill="#ffcf00"/><polygon points="368.7,547.6 398.3,527.6 364.6,510.0 333.2,530.0" fill="#ffcf00"/><polygon points="398.3,527.6 427.8,508.7 395.9,491.1 364.6,510.0" fill="#ffef00"/><polygon points="427.8,508.7 457.4,490.8 427.3,473.2 395.9,491.1" fill="#ffff00"/><polygon points="457.4,490.8 486.9,473.9 458.6,456.4 427.3,473.2" fill="#cfff30"/><polygon points="486.9,473.9 516.5,458.1 489.9,440.5 458.6,456.4" fill="#afff50"/><polygon points="516.5,458.1 546.1,443.3 521.3,425.7 489.9,440.5" fill="#8fff70"/><polygon points="546.1,443.3 575.6,429.5 552.6,411.9 521.3,425.7" fill="#60ff9f"/><polygon points="575.6,429.5 605.2,416.7 583.9,399.1 552.6,411.9" fill="#30ffcf"/><polygon points="605.2,416.7 634.8,404.9 615.3,387.3 583.9,399.1" fill="#00ffff"/><polygon points="634.8,404.9 664.3,394.2 646.6,376.6 615.3,387.3" fill="#00dfff"/><polygon points="664.3,394.2 693.9,384.5 678.0,366.9 646.6,376.6" fill="#00bfff"/><polygon points="693.9,384.5 723.5,375.8 709.3,358.2 678.0,366.9" fill="#008fff"/><polygon points="723.5,375.8 753.0,368.1 740.6,350.5 709.3,358.2" fill="#0070ff"/><polygon points="753.0,368.1 782.6,361.5 772.0,343.9 740.6,350.5" fill="#0040ff"/><polygon points="782.6,361.5 812.2,355.8 803.3,338.3 772.0,343.9" fill="#0020ff"/><polygon points="812.2,355.8 841.7,351.2 834.6,333.7 803.3,338.3" fill="#0000ff"/><polygon points="841.7,351.2 871.3,347.7 866.0,330.1 834.6,333.7" fill="#0000df"/><polygon points="871.3,347.7 900.9,345.1 897.3,327.5 866.0,330.1" fill="#0000bf"/><polygon points="900.9,345.1 930.4,343.6 928.7,326.0 897.3,327.5" fill="#00009f"/><polygon points="930.4,343.6 960.0,343.1 960.0,325.5 928.7,326.0" fill="#00008f"/><polygon points="960.0,343.1 989.6,343.6 991.3,326.0 960.0,325.5" fill="#00008f"/><polygon points="989.6,343.6 1019.1,345.1 1022.7,327.5 991.3,326.0" fill="#00008f"/><polygon points="1019.1,345.1 1048.7,347.7 1054.0,330.1 1022.7,327.5" fill="#00009f"/><polygon points="1048.7,347.7 1078.3,351.2 1085.4,333.7 1054.0,330.1" fill="#0000bf"/><polygon points="1078.3,351.2 1107.8,355.8 1116.7,338.3 1085.4,333.7" fill="#0000df"/><polygon points="1107.8,355.8 1137.4,361.5 1148.0,343.9 1116.7,338.3" fill="#0000ff"/><polygon points="1137.4,361.5 1167.0,368.1 1179.4,350.5 1148.0,343.9" fill="#0020ff"/><polygon points="1167.0,368.1 1196.5,375.8 1210.7,358.2 1179.4,350.5" fill="#0040ff"/><polygon points="1196.5,375.8 1226.1,384.5 1242.0,366.9 1210.7,358.2" fill="#0070ff"/><polygon points="1226.1,384.5 1255.7,394.2 1273.4,376.6 1242.0,366.9" fill="#008fff"/><polygon points="1255.7,394.2 1285.2,404.9 1304.7,387.3 1273.4,376.6" fill="#00bfff"/><polygon points="1285.2,404.9 1314.8,416.7 1336.1,399.1 1304.7,387.3" fill="#00dfff"/><polygon points="1314.8,416.7 1344.4,429.5 1367.4,411.9 1336.1,399.1" fill="#00ffff"/><polygon points="1344.4,429.5 1373.9,443.3 1398.7,425.7 1367.4,411.9" fill="#30ffcf"/><polygon points="1373.9,443.3 1403.5,458.1 1430.1,440.5 1398.7,425.7" fill="#60ff9f"/><polygon points="1403.5,458.1 1433.1,473.9 1461.4,456.4 1430.1,440.5" fill="#8fff70"/><polygon points="1433.1,473.9 1462.6,490.8 1492.7,473.2 1461.4,456.4" fill="#afff50"/><polygon points="1462.6,490.8 1492.2,508.7 1524.1,491.1 1492.7,473.2" fill="#cfff30"/><polygon points="1492.2,508.7 1521.7,527.6 1555.4,510.0 1524.1,491.1" fill="#ffff00"/><polygon points="1521.7,527.6 1551.3,547.6 1586.8,530.0 1555.4,510.0" fill="#ffef00"/><polygon points="333.2,530.0 364.6,510.0 330.9,491.5 297.8,511.4" fill="#ffef00"/><polygon points="364.6,510.0 395.9,491.1 364.0,472.5 330.9,491.5" fill="#ffff00"/><polygon points="395.9,491.1 427.3,473.2 397.1,454.7 364.0,472.5" fill="#cfff30"/><polygon points="427.3,473.2 458.6,456.4 430.2,437.8 397.1,454.7" fill="#afff50"/><polygon points="458.6,456.4 489.9,440.5 463.3,421.9 430.2,437.8" fill="#8fff70"/><polygon points="489.9,440.5 521.3,425.7 496.5,407.1 463.3,421.9" fill="#70ff8f"/><polygon points="521.3,425.7 552.6,411.9 529.6,393.3 496.5,407.1" fill="#40ffbf"/><polygon points="552.6,411.9 583.9,399.1 562.7,380.5 529.6,393.3" fill="#10ffef"/><polygon points="583.9,399.1 615.3,387.3 595.8,368.8 562.7,380.5" fill="#00efff"/><polygon points="615.3,387.3 646.6,376.6 628.9,358.0 595.8,368.8" fill="#00cfff"/><polygon points="646.6,376.6 678.0,366.9 662.0,348.3 628.9,358.0" fill="#009fff"/><polygon points="678.0,366.9 709.3,358.2 695.1,339.6 662.0,348.3" fill="#0080ff"/><polygon points="709.3,358.2 740.6,350.5 728.2,332.0 695.1,339.6" fill="#0060ff"/><polygon points="740.6,350.5 772.0,343.9 761.3,325.3 728.2,332.0" fill="#0030ff"/><polygon points="772.0,343.9 803.3,338.3 794.4,319.7 761.3,325.3" fill="#0010ff"/><polygon points="803.3,338.3 834.6,333.7 827.6,315.1 794.4,319.7" fill="#0000ff"/><polygon points="834.6,333.7 866.0,330.1 860.7,311.5 827.6,315.1" fill="#0000df"/><polygon points="866.0,330.1 897.3,327.5 893.8,308.9 860.7,311.5" fill="#0000af"/><polygon points="897.3,327.5 928.7,326.0 926.9,307.4 893.8,308.9" fill="#00009f"/><polygon points="928.7,326.0 960.0,325.5 960.0,306.9 926.9,307.4" fill="#00008f"/><polygon points="960.0,325.5 991.3,326.0 993.1,307.4 960.0,306.9" fill="#00008f"/><polygon points="991.3,326.0 1022.7,327.5 1026.2,308.9 993.1,307.4" fill="#00008f"/><polygon points="1022.7,327.5 1054.0,330.1 1059.3,311.5 1026.2,308.9" fill="#00009f"/><polygon points="1054.0,330.1 1085.4,333.7 1092.4,315.1 1059.3,311.5" fill="#0000af"/><polygon points="1085.4,333.7 1116.7,338.3 1125.6,319.7 1092.4,315.1" fill="#0000df"/><polygon points="1116.7,338.3 1148.0,343.9 1158.7,325.3 1125.6,319.7" fill="#0000ff"/><polygon points="1148.0,343.9 1179.4,350.5 1191.8,332.0 1158.7,325.3" fill="#0010ff"/><polygon points="1179.4,350.5 1210.7,358.2 1224.9,339.6 1191.8,332.0" fill="#0030ff"/><polygon points="1210.7,358.2 1242.0,366.9 1258.0,348.3 1224.9,339.6" fill="#0060ff"/><polygon points="1242.0,366.9 1273.4,376.6 1291.1,358.0 1258.0,348.3" fill="#0080ff"/><polygon points="1273.4,376.6 1304.7,387.3 1324.2,368.8 1291.1,358.0" fill="#009fff"/><polygon points="1304.7,387.3 1336.1,399.1 1357.3,380.5 1324.2,368.8" fill="#00cfff"/><polygon points="1336.1,399.1 1367.4,411.9 1390.4,393.3 1357.3,380.5" fill="#00efff"/><polygon points="1367.4,411.9 1398.7,425.7 1423.5,407.1 1390.4,393.3" fill="#10ffef"/><polygon points="1398.7,425.7 1430.1,440.5 1456.7,421.9 1423.5,407.1" fill="#40ffbf"/><polygon points="1430.1,440.5 1461.4,456.4 1489.8,437.8 1456.7,421.9" fill="#70ff8f"/><polygon points="1461.4,456.4 1492.7,473.2 1522.9,454.7 1489.8,437.8" fill="#8fff70"/><polygon points="1492.7,473.2 1524.1,491.1 1556.0,472.5 1522.9,454.7" fill="#afff50"/><polygon points="1524.1,491.1 1555.4,510.0 1589.1,491.5 1556.0,472.5" fill="#cfff30"/><polygon points="1555.4,510.0 1586.8,530.0 1622.2,511.4 1589.1,491.5" fill="#ffff00"/><polygon points="297.8,511.4 330.9,491.5 297.2,471.8 262.3,491.8" fill="#efff10"/><polygon points="330.9,491.5 364.0,472.5 332.1,452.9 297.2,471.8" fill="#cfff30"/><polygon points="364.0,472.5 397.1,454.7 367.0,435.0 332.1,452.9" fill="#afff50"/><polygon points="397.1,454.7 430.2,437.8 401.9,418.2 367.0,435.0" fill="#8fff70"/><polygon points="430.2,437.8 463.3,421.9 436.8,402.3 401.9,418.2" fill="#70ff8f"/><polygon points="463.3,421.9 496.5,407.1 471.6,387.5 436.8,402.3" fill="#50ffaf"/><polygon points="496.5,407.1 529.6,393.3 506.5,373.7 471.6,387.5" fill="#20ffdf"/><polygon points="529.6,393.3 562.7,380.5 541.4,360.9 506.5,373.7" fill="#00efff"/><polygon points="562.7,380.5 595.8,368.8 576.3,349.1 541.4,360.9" fill="#00cfff"/><polygon points="595.8,368.8 628.9,358.0 611.2,338.4 576.3,349.1" fill="#00afff"/><polygon points="628.9,358.0 662.0,348.3 646.1,328.7 611.2,338.4" fill="#008fff"/><polygon points="662.0,348.3 695.1,339.6 680.9,320.0 646.1,328.7" fill="#0070ff"/><polygon points="695.1,339.6 728.2,332.0 715.8,312.3 680.9,320.0" fill="#0050ff"/><polygon points="728.2,332.0 761.3,325.3 750.7,305.7 715.8,312.3" fill="#0030ff"/><polygon points="761.3,325.3 794.4,319.7 785.6,300.1 750.7,305.7" fill="#0010ff"/><polygon points="794.4,319.7 827.6,315.1 820.5,295.5 785.6,300.1" fill="#0000ef"/><polygon points="827.6,315.1 860.7,311.5 855.4,291.9 820.5,295.5" fill="#0000cf"/><polygon points="860.7,311.5 893.8,308.9 890.2,289.3 855.4,291.9" fill="#0000af"/><polygon points="893.8,308.9 926.9,307.4 925.1,287.8 890.2,289.3" fill="#00009f"/><polygon points="926.9,307.4 960.0,306.9 960.0,287.3 925.1,287.8" fill="#00008f"/><polygon points="960.0,306.9 993.1,307.4 994.9,287.8 960.0,287.3" fill="#00008f"/><polygon points="993.1,307.4 1026.2,308.9 1029.8,289.3 994.9,287.8" fill="#00008f"/><polygon points="1026.2,308.9 1059.3,311.5 1064.6,291.9 1029.8,289.3" fill="#00009f"/><polygon points="1059.3,311.5 1092.4,315.1 1099.5,295.5 1064.6,291.9" fill="#0000af"/><polygon points="1092.4,315.1 1125.6,319.7 1134.4,300.1 1099.5,295.5" fill="#0000cf"/><polygon points="1125.6,319.7 1158.7,325.3 1169.3,305.7 1134.4,300.1" fill="#0000ef"/><polygon points="1158.7,325.3 1191.8,332.0 1204.2,312.3 1169.3,305.7" fill="#0010ff"/><polygon points="1191.8,332.0 1224.9,339.6 1239.1,320.0 1204.2,312.3" fill="#0030ff"/><polygon points="1224.9,339.6 1258.0,348.3 1273.9,328.7 1239.1,320.0" fill="#0050ff"/><polygon points="1258.0,348.3 1291.1,358.0 1308.8,338.4 1273.9,328.7" fill="#0070ff"/><polygon points="1291.1,358.0 1324.2,368.8 1343.7,349.1 1308.8,338.4" fill="#008fff"/><polygon points="1324.2,368.8 1357.3,380.5 1378.6,360.9 1343.7,349.1" fill="#00afff"/><polygon points="1357.3,380.5 1390.4,393.3 1413.5,373.7 1378.6,360.9" fill="#00cfff"/><polygon points="1390.4,393.3 1423.5,407.1 1448.4,387.5 1413.5,373.7" fill="#00efff"/><polygon points="1423.5,407.1 1456.7,421.9 1483.2,402.3 1448.4,387.5" fill="#20ffdf"/><polygon points="1456.7,421.9 1489.8,437.8 1518.1,418.2 1483.2,402.3" fill="#50ffaf"/><polygon points="1489.8,437.8 1522.9,454.7 1553.0,435.0 1518.1,418.2" fill="#70ff8f"/><polygon points="1522.9,454.7 1556.0,472.5 1587.9,452.9 1553.0,435.0" fill="#8fff70"/><polygon points="1556.0,472.5 1589.1,491.5 1622.8,471.8 1587.9,452.9" fill="#afff50"/><polygon points="1589.1,491.5 1622.2,511.4 1657.7,491.8 1622.8,471.8" fill="#cfff30"/></g>
<path d="M723.2 667.0L735.0 647.0L746.9 628.1L758.7 610.2L770.5 593.4L782.4 577.5L794.2 562.7L806.1 548.9L817.9 536.1L829.8 524.3L841.6 513.6L853.4 503.9L865.3 495.2L877.1 487.5L889.0 480.9L900.8 475.3L912.6 470.7L924.5 467.1L936.3 464.5L948.2 463.0L960.0 462.5L971.8 463.0L983.7 464.5L995.5 467.1L1007.4 470.7L1019.2 475.3L1031.0 480.9L1042.9 487.5L1054.7 495.2L1066.6 503.9L1078.4 513.6L1090.2 524.3L1102.1 536.1L1113.9 548.9L1125.8 562.7L1137.6 577.5L1149.5 593.4L1161.3 610.2L1173.1 628.1L1185.0 647.0L1196.8 667.0M687.7 659.6L701.4 639.7L715.0 620.8L728.6 602.9L742.2 586.0L755.8 570.2L769.4 555.3L783.0 541.5L796.6 528.8L810.3 517.0L823.9 506.3L837.5 496.6L851.1 487.9L864.7 480.2L878.3 473.5L891.9 467.9L905.5 463.3L919.2 459.7L932.8 457.2L946.4 455.7L960.0 455.1L973.6 455.7L987.2 457.2L1000.8 459.7L1014.5 463.3L1028.1 467.9L1041.7 473.5L1055.3 480.2L1068.9 487.9L1082.5 496.6L1096.1 506.3L1109.7 517.0L1123.4 528.8L1137.0 541.5L1150.6 555.3L1164.2 570.2L1177.8 586.0L1191.4 602.9L1205.0 620.8L1218.6 639.7L1232.3 659.6M652.3 651.3L667.7 631.3L683.1 612.4L698.4 594.5L713.8 577.7L729.2 561.8L744.6 547.0L760.0 533.2L775.4 520.4L790.8 508.6L806.1 497.9L821.5 488.2L836.9 479.5L852.3 471.8L867.7 465.2L883.1 459.6L898.5 455.0L913.8 451.4L929.2 448.8L944.6 447.3L960.0 446.8L975.4 447.3L990.8 448.8L1006.2 451.4L1021.5 455.0L1036.9 459.6L1052.3 465.2L1067.7 471.8L1083.1 479.5L1098.5 488.2L1113.9 497.9L1129.2 508.6L1144.6 520.4L1160.0 533.2L1175.4 547.0L1190.8 561.8L1206.2 577.7L1221.6 594.5L1236.9 612.4L1252.3 631.3L1267.7 651.3M616.8 641.9L634.0 622.0L651.2 603.0L668.3 585.1L685.5 568.3L702.6 552.4L719.8 537.6L736.9 523.8L754.1 511.0L771.3 499.3L788.4 488.5L805.6 478.8L822.7 470.1L839.9 462.4L857.1 455.8L874.2 450.2L891.4 445.6L908.5 442.0L925.7 439.4L942.8 437.9L960.0 437.4L977.2 437.9L994.3 439.4L1011.5 442.0L1028.6 445.6L1045.8 450.2L1062.9 455.8L1080.1 462.4L1097.3 470.1L1114.4 478.8L1131.6 488.5L1148.7 499.3L1165.9 511.0L1183.1 523.8L1200.2 537.6L1217.4 552.4L1234.5 568.3L1251.7 585.1L1268.8 603.0L1286.0 622.0L1303.2 641.9M581.4 631.5L600.3 611.5L619.2 592.6L638.2 574.7L657.1 557.9L676.0 542.0L695.0 527.2L713.9 513.4L732.8 500.6L751.8 488.8L770.7 478.1L789.6 468.4L808.6 459.7L827.5 452.0L846.4 445.4L865.3 439.8L884.3 435.2L903.2 431.6L922.1 429.0L941.1 427.5L960.0 427.0L978.9 427.5L997.9 429.0L1016.8 431.6L1035.7 435.2L1054.7 439.8L1073.6 445.4L1092.5 452.0L1111.4 459.7L1130.4 468.4L1149.3 478.1L1168.2 488.8L1187.2 500.6L1206.1 513.4L1225.0 527.2L1244.0 542.0L1262.9 557.9L1281.8 574.7L1300.8 592.6L1319.7 611.5L1338.6 631.5M545.9 620.1L566.6 600.1L587.3 581.2L608.0 563.3L628.7 546.4L649.5 530.6L670.2 515.8L690.9 502.0L711.6 489.2L732.3 477.4L753.0 466.7L773.7 457.0L794.4 448.3L815.1 440.6L835.8 434.0L856.5 428.3L877.2 423.7L897.9 420.2L918.6 417.6L939.3 416.1L960.0 415.6L980.7 416.1L1001.4 417.6L1022.1 420.2L1042.8 423.7L1063.5 428.3L1084.2 434.0L1104.9 440.6L1125.6 448.3L1146.3 457.0L1167.0 466.7L1187.7 477.4L1208.4 489.2L1229.1 502.0L1249.8 515.8L1270.5 530.6L1291.3 546.4L1312.0 563.3L1332.7 581.2L1353.4 600.1L1374.1 620.1M510.5 607.6L533.0 587.7L555.4 568.7L577.9 550.8L600.4 534.0L622.9 518.1L645.3 503.3L667.8 489.5L690.3 476.7L712.8 465.0L735.2 454.2L757.7 444.5L780.2 435.8L802.7 428.1L825.1 421.5L847.6 415.9L870.1 411.3L892.6 407.7L915.0 405.1L937.5 403.6L960.0 403.1L982.5 403.6L1005.0 405.1L1027.4 407.7L1049.9 411.3L1072.4 415.9L1094.9 421.5L1117.3 428.1L1139.8 435.8L1162.3 444.5L1184.8 454.2L1207.2 465.0L1229.7 476.7L1252.2 489.5L1274.7 503.3L1297.1 518.1L1319.6 534.0L1342.1 550.8L1364.6 568.7L1387.0 587.7L1409.5 607.6M475.0 594.1L499.3 574.2L523.5 555.3L547.8 537.4L572.0 520.5L596.3 504.7L620.5 489.8L644.8 476.0L669.0 463.2L693.3 451.5L717.5 440.7L741.8 431.0L766.0 422.3L790.3 414.7L814.5 408.0L838.8 402.4L863.0 397.8L887.3 394.2L911.5 391.7L935.8 390.1L960.0 389.6L984.2 390.1L1008.5 391.7L1032.7 394.2L1057.0 397.8L1081.2 402.4L1105.5 408.0L1129.7 414.7L1154.0 422.3L1178.2 431.0L1202.5 440.7L1226.7 451.5L1251.0 463.2L1275.2 476.0L1299.5 489.8L1323.7 504.7L1348.0 520.5L1372.2 537.4L1396.5 555.3L1420.7 574.2L1445.0 594.1M439.6 579.6L465.6 559.7L491.6 540.8L517.6 522.9L543.7 506.0L569.7 490.2L595.7 475.3L621.7 461.5L647.8 448.7L673.8 437.0L699.8 426.2L725.8 416.5L751.8 407.8L777.9 400.2L803.9 393.5L829.9 387.9L855.9 383.3L881.9 379.7L908.0 377.2L934.0 375.6L960.0 375.1L986.0 375.6L1012.0 377.2L1038.1 379.7L1064.1 383.3L1090.1 387.9L1116.1 393.5L1142.1 400.2L1168.2 407.8L1194.2 416.5L1220.2 426.2L1246.2 437.0L1272.2 448.7L1298.3 461.5L1324.3 475.3L1350.3 490.2L1376.3 506.0L1402.4 522.9L1428.4 540.8L1454.4 559.7L1480.4 579.6M404.1 564.1L431.9 544.2L459.7 525.2L487.5 507.4L515.3 490.5L543.1 474.6L570.9 459.8L598.7 446.0L626.5 433.2L654.3 421.5L682.1 410.7L709.9 401.0L737.7 392.3L765.4 384.7L793.2 378.0L821.0 372.4L848.8 367.8L876.6 364.2L904.4 361.6L932.2 360.1L960.0 359.6L987.8 360.1L1015.6 361.6L1043.4 364.2L1071.2 367.8L1099.0 372.4L1126.8 378.0L1154.6 384.7L1182.3 392.3L1210.1 401.0L1237.9 410.7L1265.7 421.5L1293.5 433.2L1321.3 446.0L1349.1 459.8L1376.9 474.6L1404.7 490.5L1432.5 507.4L1460.3 525.2L1488.1 544.2L1515.9 564.1M368.7 547.6L398.3 527.6L427.8 508.7L457.4 490.8L486.9 473.9L516.5 458.1L546.1 443.3L575.6 429.5L605.2 416.7L634.8 404.9L664.3 394.2L693.9 384.5L723.5 375.8L753.0 368.1L782.6 361.5L812.2 355.8L841.7 351.2L871.3 347.7L900.9 345.1L930.4 343.6L960.0 343.1L989.6 343.6L1019.1 345.1L1048.7 347.7L1078.3 351.2L1107.8 355.8L1137.4 361.5L1167.0 368.1L1196.5 375.8L1226.1 384.5L1255.7 394.2L1285.2 404.9L1314.8 416.7L1344.4 429.5L1373.9 443.3L1403.5 458.1L1433.1 473.9L1462.6 490.8L1492.2 508.7L1521.7 527.6L1551.3 547.6M333.2 530.0L364.6 510.0L395.9 491.1L427.3 473.2L458.6 456.4L489.9 440.5L521.3 425.7L552.6 411.9L583.9 399.1L615.3 387.3L646.6 376.6L678.0 366.9L709.3 358.2L740.6 350.5L772.0 343.9L803.3 338.3L834.6 333.7L866.0 330.1L897.3 327.5L928.7 326.0L960.0 325.5L991.3 326.0L1022.7 327.5L1054.0 330.1L1085.4 333.7L1116.7 338.3L1148.0 343.9L1179.4 350.5L1210.7 358.2L1242.0 366.9L1273.4 376.6L1304.7 387.3L1336.1 399.1L1367.4 411.9L1398.7 425.7L1430.1 440.5L1461.4 456.4L1492.7 473.2L1524.1 491.1L1555.4 510.0L1586.8 530.0M297.8 511.4L330.9 491.5L364.0 472.5L397.1 454.7L430.2 437.8L463.3 421.9L496.5 407.1L529.6 393.3L562.7 380.5L595.8 368.8L628.9 358.0L662.0 348.3L695.1 339.6L728.2 332.0L761.3 325.3L794.4 319.7L827.6 315.1L860.7 311.5L893.8 308.9L926.9 307.4L960.0 306.9L993.1 307.4L1026.2 308.9L1059.3 311.5L1092.4 315.1L1125.6 319.7L1158.7 325.3L1191.8 332.0L1224.9 339.6L1258.0 348.3L1291.1 358.0L1324.2 368.8L1357.3 380.5L1390.4 393.3L1423.5 407.1L1456.7 421.9L1489.8 437.8L1522.9 454.7L1556.0 472.5L1589.1 491.5L1622.2 511.4M262.3 491.8L297.2 471.8L332.1 452.9L367.0 435.0L401.9 418.2L436.8 402.3L471.6 387.5L506.5 373.7L541.4 360.9L576.3 349.1L611.2 338.4L646.1 328.7L680.9 320.0L715.8 312.3L750.7 305.7L785.6 300.1L820.5 295.5L855.4 291.9L890.2 289.3L925.1 287.8L960.0 287.3L994.9 287.8L1029.8 289.3L1064.6 291.9L1099.5 295.5L1134.4 300.1L1169.3 305.7L1204.2 312.3L1239.1 320.0L1273.9 328.7L1308.8 338.4L1343.7 349.1L1378.6 360.9L1413.5 373.7L1448.4 387.5L1483.2 402.3L1518.1 418.2L1553.0 435.0L1587.9 452.9L1622.8 471.8L1657.7 491.8M723.2 667.0L687.7 659.6L652.3 651.3L616.8 641.9L581.4 631.5L545.9 620.1L510.5 607.6L475.0 594.1L439.6 579.6L404.1 564.1L368.7 547.6L333.2 530.0L297.8 511.4L262.3 491.8M735.0 647.0L701.4 639.7L667.7 631.3L634.0 622.0L600.3 611.5L566.6 600.1L533.0 587.7L499.3 574.2L465.6 559.7L431.9 544.2L398.3 527.6L364.6 510.0L330.9 491.5L297.2 471.8M746.9 628.1L715.0 620.8L683.1 612.4L651.2 603.0L619.2 592.6L587.3 581.2L555.4 568.7L523.5 555.3L491.6 540.8L459.7 525.2L427.8 508.7L395.9 491.1L364.0 472.5L332.1 452.9M758.7 610.2L728.6 602.9L698.4 594.5L668.3 585.1L638.2 574.7L608.0 563.3L577.9 550.8L547.8 537.4L517.6 522.9L487.5 507.4L457.4 490.8L427.3 473.2L397.1 454.7L367.0 435.0M770.5 593.4L742.2 586.0L713.8 577.7L685.5 568.3L657.1 557.9L628.7 546.4L600.4 534.0L572.0 520.5L543.7 506.0L515.3 490.5L486.9 473.9L458.6 456.4L430.2 437.8L401.9 418.2M782.4 577.5L755.8 570.2L729.2 561.8L702.6 552.4L676.0 542.0L649.5 530.6L622.9 518.1L596.3 504.7L569.7 490.2L543.1 474.6L516.5 458.1L489.9 440.5L463.3 421.9L436.8 402.3M794.2 562.7L769.4 555.3L744.6 547.0L719.8 537.6L695.0 527.2L670.2 515.8L645.3 503.3L620.5 489.8L595.7 475.3L570.9 459.8L546.1 443.3L521.3 425.7L496.5 407.1L471.6 387.5M806.1 548.9L783.0 541.5L760.0 533.2L736.9 523.8L713.9 513.4L690.9 502.0L667.8 489.5L644.8 476.0L621.7 461.5L598.7 446.0L575.6 429.5L552.6 411.9L529.6 393.3L506.5 373.7M817.9 536.1L796.6 528.8L775.4 520.4L754.1 511.0L732.8 500.6L711.6 489.2L690.3 476.7L669.0 463.2L647.8 448.7L626.5 433.2L605.2 416.7L583.9 399.1L562.7 380.5L541.4 360.9M829.8 524.3L810.3 517.0L790.8 508.6L771.3 499.3L751.8 488.8L732.3 477.4L712.8 465.0L693.3 451.5L673.8 437.0L654.3 421.5L634.8 404.9L615.3 387.3L595.8 368.8L576.3 349.1M841.6 513.6L823.9 506.3L806.1 497.9L788.4 488.5L770.7 478.1L753.0 466.7L735.2 454.2L717.5 440.7L699.8 426.2L682.1 410.7L664.3 394.2L646.6 376.6L628.9 358.0L611.2 338.4M853.4 503.9L837.5 496.6L821.5 488.2L805.6 478.8L789.6 468.4L773.7 457.0L757.7 444.5L741.8 431.0L725.8 416.5L709.9 401.0L693.9 384.5L678.0 366.9L662.0 348.3L646.1 328.7M865.3 495.2L851.1 487.9L836.9 479.5L822.7 470.1L808.6 459.7L794.4 448.3L780.2 435.8L766.0 422.3L751.8 407.8L737.7 392.3L723.5 375.8L709.3 358.2L695.1 339.6L680.9 320.0M877.1 487.5L864.7 480.2L852.3 471.8L839.9 462.4L827.5 452.0L815.1 440.6L802.7 428.1L790.3 414.7L777.9 400.2L765.4 384.7L753.0 368.1L740.6 350.5L728.2 332.0L715.8 312.3M889.0 480.9L878.3 473.5L867.7 465.2L857.1 455.8L846.4 445.4L835.8 434.0L825.1 421.5L814.5 408.0L803.9 393.5L793.2 378.0L782.6 361.5L772.0 343.9L761.3 325.3L750.7 305.7M900.8 475.3L891.9 467.9L883.1 459.6L874.2 450.2L865.3 439.8L856.5 428.3L847.6 415.9L838.8 402.4L829.9 387.9L821.0 372.4L812.2 355.8L803.3 338.3L794.4 319.7L785.6 300.1M912.6 470.7L905.5 463.3L898.5 455.0L891.4 445.6L884.3 435.2L877.2 423.7L870.1 411.3L863.0 397.8L855.9 383.3L848.8 367.8L841.7 351.2L834.6 333.7L827.6 315.1L820.5 295.5M924.5 467.1L919.2 459.7L913.8 451.4L908.5 442.0L903.2 431.6L897.9 420.2L892.6 407.7L887.3 394.2L881.9 379.7L876.6 364.2L871.3 347.7L866.0 330.1L860.7 311.5L855.4 291.9M936.3 464.5L932.8 457.2L929.2 448.8L925.7 439.4L922.1 429.0L918.6 417.6L915.0 405.1L911.5 391.7L908.0 377.2L904.4 361.6L900.9 345.1L897.3 327.5L893.8 308.9L890.2 289.3M948.2 463.0L946.4 455.7L944.6 447.3L942.8 437.9L941.1 427.5L939.3 416.1L937.5 403.6L935.8 390.1L934.0 375.6L932.2 360.1L930.4 343.6L928.7 326.0L926.9 307.4L925.1 287.8M960.0 462.5L960.0 455.1L960.0 446.8L960.0 437.4L960.0 427.0L960.0 415.6L960.0 403.1L960.0 389.6L960.0 375.1L960.0 359.6L960.0 343.1L960.0 325.5L960.0 306.9L960.0 287.3M971.8 463.0L973.6 455.7L975.4 447.3L977.2 437.9L978.9 427.5L980.7 416.1L982.5 403.6L984.2 390.1L986.0 375.6L987.8 360.1L989.6 343.6L991.3 326.0L993.1 307.4L994.9 287.8M983.7 464.5L987.2 457.2L990.8 448.8L994.3 439.4L997.9 429.0L1001.4 417.6L1005.0 405.1L1008.5 391.7L1012.0 377.2L1015.6 361.6L1019.1 345.1L1022.7 327.5L1026.2 308.9L1029.8 289.3M995.5 467.1L1000.8 459.7L1006.2 451.4L1011.5 442.0L1016.8 431.6L1022.1 420.2L1027.4 407.7L1032.7 394.2L1038.1 379.7L1043.4 364.2L1048.7 347.7L1054.0 330.1L1059.3 311.5L1064.6 291.9M1007.4 470.7L1014.5 463.3L1021.5 455.0L1028.6 445.6L1035.7 435.2L1042.8 423.7L1049.9 411.3L1057.0 397.8L1064.1 383.3L1071.2 367.8L1078.3 351.2L1085.4 333.7L1092.4 315.1L1099.5 295.5M1019.2 475.3L1028.1 467.9L1036.9 459.6L1045.8 450.2L1054.7 439.8L1063.5 428.3L1072.4 415.9L1081.2 402.4L1090.1 387.9L1099.0 372.4L1107.8 355.8L1116.7 338.3L1125.6 319.7L1134.4 300.1M1031.0 480.9L1041.7 473.5L1052.3 465.2L1062.9 455.8L1073.6 445.4L1084.2 434.0L1094.9 421.5L1105.5 408.0L1116.1 393.5L1126.8 378.0L1137.4 361.5L1148.0 343.9L1158.7 325.3L1169.3 305.7M1042.9 487.5L1055.3 480.2L1067.7 471.8L1080.1 462.4L1092.5 452.0L1104.9 440.6L1117.3 428.1L1129.7 414.7L1142.1 400.2L1154.6 384.7L1167.0 368.1L1179.4 350.5L1191.8 332.0L1204.2 312.3M1054.7 495.2L1068.9 487.9L1083.1 479.5L1097.3 470.1L1111.4 459.7L1125.6 448.3L1139.8 435.8L1154.0 422.3L1168.2 407.8L1182.3 392.3L1196.5 375.8L1210.7 358.2L1224.9 339.6L1239.1 320.0M1066.6 503.9L1082.5 496.6L1098.5 488.2L1114.4 478.8L1130.4 468.4L1146.3 457.0L1162.3 444.5L1178.2 431.0L1194.2 416.5L1210.1 401.0L1226.1 384.5L1242.0 366.9L1258.0 348.3L1273.9 328.7M1078.4 513.6L1096.1 506.3L1113.9 497.9L1131.6 488.5L1149.3 478.1L1167.0 466.7L1184.8 454.2L1202.5 440.7L1220.2 426.2L1237.9 410.7L1255.7 394.2L1273.4 376.6L1291.1 358.0L1308.8 338.4M1090.2 524.3L1109.7 517.0L1129.2 508.6L1148.7 499.3L1168.2 488.8L1187.7 477.4L1207.2 465.0L1226.7 451.5L1246.2 437.0L1265.7 421.5L1285.2 404.9L1304.7 387.3L1324.2 368.8L1343.7 349.1M1102.1 536.1L1123.4 528.8L1144.6 520.4L1165.9 511.0L1187.2 500.6L1208.4 489.2L1229.7 476.7L1251.0 463.2L1272.2 448.7L1293.5 433.2L1314.8 416.7L1336.1 399.1L1357.3 380.5L1378.6 360.9M1113.9 548.9L1137.0 541.5L1160.0 533.2L1183.1 523.8L1206.1 513.4L1229.1 502.0L1252.2 489.5L1275.2 476.0L1298.3 461.5L1321.3 446.0L1344.4 429.5L1367.4 411.9L1390.4 393.3L1413.5 373.7M1125.8 562.7L1150.6 555.3L1175.4 547.0L1200.2 537.6L1225.0 527.2L1249.8 515.8L1274.7 503.3L1299.5 489.8L1324.3 475.3L1349.1 459.8L1373.9 443.3L1398.7 425.7L1423.5 407.1L1448.4 387.5M1137.6 577.5L1164.2 570.2L1190.8 561.8L1217.4 552.4L1244.0 542.0L1270.5 530.6L1297.1 518.1L1323.7 504.7L1350.3 490.2L1376.9 474.6L1403.5 458.1L1430.1 440.5L1456.7 421.9L1483.2 402.3M1149.5 593.4L1177.8 586.0L1206.2 577.7L1234.5 568.3L1262.9 557.9L1291.3 546.4L1319.6 534.0L1348.0 520.5L1376.3 506.0L1404.7 490.5L1433.1 473.9L1461.4 456.4L1489.8 437.8L1518.1 418.2M1161.3 610.2L1191.4 602.9L1221.6 594.5L1251.7 585.1L1281.8 574.7L1312.0 563.3L1342.1 550.8L1372.2 537.4L1402.4 522.9L1432.5 507.4L1462.6 490.8L1492.7 473.2L1522.9 454.7L1553.0 435.0M1173.1 628.1L1205.0 620.8L1236.9 612.4L1268.8 603.0L1300.8 592.6L1332.7 581.2L1364.6 568.7L1396.5 555.3L1428.4 540.8L1460.3 525.2L1492.2 508.7L1524.1 491.1L1556.0 472.5L1587.9 452.9M1185.0 647.0L1218.6 639.7L1252.3 631.3L1286.0 622.0L1319.7 611.5L1353.4 600.1L1387.0 587.7L1420.7 574.2L1454.4 559.7L1488.1 544.2L1521.7 527.6L1555.4 510.0L1589.1 491.5L1622.8 471.8M1196.8 667.0L1232.3 659.6L1267.7 651.3L1303.2 641.9L1338.6 631.5L1374.1 620.1L1409.5 607.6L1445.0 594.1L1480.4 579.6L1515.9 564.1L1551.3 547.6L1586.8 530.0L1622.2 511.4L1657.7 491.8" fill="none" stroke="#000" stroke-width="1.1" stroke-linejoin="round" stroke-linecap="round"/>
<path d="M250.5 76.0V894.5H1669.5M250.5 894.5V879.5M250.5 76.5H264.0M391.5 894.5V879.5M250.5 157.5H264.0M533.5 894.5V879.5M250.5 239.5H264.0M675.5 894.5V879.5M250.5 321.5H264.0M817.5 894.5V879.5M250.5 403.5H264.0M959.5 894.5V879.5M250.5 485.5H264.0M1101.5 894.5V879.5M250.5 567.5H264.0M1243.5 894.5V879.5M250.5 649.5H264.0M1385.5 894.5V879.5M250.5 731.5H264.0M1527.5 894.5V879.5M250.5 812.5H264.0M1668.5 894.5V879.5M250.5 894.5H264.0" stroke="#000" stroke-width="1" fill="none" shape-rendering="crispEdges"/>
<path d="M959.5 448V462" stroke="#fff" stroke-width="1" stroke-dasharray="3 1" fill="none" shape-rendering="crispEdges"/>
<text x="247.8" y="911" text-anchor="middle">-1</text>
<text x="388.8" y="911" text-anchor="middle">-0.8</text>
<text x="530.8" y="911" text-anchor="middle">-0.6</text>
<text x="672.8" y="911" text-anchor="middle">-0.4</text>
<text x="814.8" y="911" text-anchor="middle">-0.2</text>
<text x="958.6" y="911" text-anchor="middle">0</text>
<text x="1100.6" y="911" text-anchor="middle">0.2</text>
<text x="1242.6" y="911" text-anchor="middle">0.4</text>
<text x="1384.6" y="911" text-anchor="middle">0.6</text>
<text x="1526.6" y="911" text-anchor="middle">0.8</text>
<text x="1667.6" y="911" text-anchor="middle">1</text>
<text x="245.5" y="81.5" text-anchor="end">1</text>
<text x="245.5" y="162.5" text-anchor="end">0.8</text>
<text x="245.5" y="244.5" text-anchor="end">0.6</text>
<text x="245.5" y="326.5" text-anchor="end">0.4</text>
<text x="245.5" y="408.5" text-anchor="end">0.2</text>
<text x="245.5" y="490.5" text-anchor="end">0</text>
<text x="245.5" y="572.5" text-anchor="end">-0.2</text>
<text x="245.5" y="654.5" text-anchor="end">-0.4</text>
<text x="245.5" y="736.5" text-anchor="end">-0.6</text>
<text x="245.5" y="817.5" text-anchor="end">-0.8</text>
<text x="245.5" y="899.5" text-anchor="end">-1</text>
<rect x="1690.5" y="75.50" width="27.0" height="820.00" fill="#800000"/>
<rect x="1690.5" y="88.31" width="27.0" height="807.19" fill="#8f0000"/>
<rect x="1690.5" y="101.12" width="27.0" height="794.38" fill="#9f0000"/>
<rect x="1690.5" y="113.94" width="27.0" height="781.56" fill="#af0000"/>
<rect x="1690.5" y="126.75" width="27.0" height="768.75" fill="#bf0000"/>
<rect x="1690.5" y="139.56" width="27.0" height="755.94" fill="#cf0000"/>
<rect x="1690.5" y="152.38" width="27.0" height="743.12" fill="#df0000"/>
<rect x="1690.5" y="165.19" width="27.0" height="730.31" fill="#ef0000"/>
<rect x="1690.5" y="178.00" width="27.0" height="717.50" fill="#ff0000"/>
<rect x="1690.5" y="190.81" width="27.0" height="704.69" fill="#ff1000"/>
<rect x="1690.5" y="203.62" width="27.0" height="691.88" fill="#ff2000"/>
<rect x="1690.5" y="216.44" width="27.0" height="679.06" fill="#ff3000"/>
<rect x="1690.5" y="229.25" width="27.0" height="666.25" fill="#ff4000"/>
<rect x="1690.5" y="242.06" width="27.0" height="653.44" fill="#ff5000"/>
<rect x="1690.5" y="254.88" width="27.0" height="640.62" fill="#ff6000"/>
<rect x="1690.5" y="267.69" width="27.0" height="627.81" fill="#ff7000"/>
<rect x="1690.5" y="280.50" width="27.0" height="615.00" fill="#ff8000"/>
<rect x="1690.5" y="293.31" width="27.0" height="602.19" fill="#ff8f00"/>
<rect x="1690.5" y="306.12" width="27.0" height="589.38" fill="#ff9f00"/>
<rect x="1690.5" y="318.94" width="27.0" height="576.56" fill="#ffaf00"/>
<rect x="1690.5" y="331.75" width="27.0" height="563.75" fill="#ffbf00"/>
<rect x="1690.5" y="344.56" width="27.0" height="550.94" fill="#ffcf00"/>
<rect x="1690.5" y="357.38" width="27.0" height="538.12" fill="#ffdf00"/>
<rect x="1690.5" y="370.19" width="27.0" height="525.31" fill="#ffef00"/>
<rect x="1690.5" y="383.00" width="27.0" height="512.50" fill="#ffff00"/>
<rect x="1690.5" y="395.81" width="27.0" height="499.69" fill="#efff10"/>
<rect x="1690.5" y="408.62" width="27.0" height="486.88" fill="#dfff20"/>
<rect x="1690.5" y="421.44" width="27.0" height="474.06" fill="#cfff30"/>
<rect x="1690.5" y="434.25" width="27.0" height="461.25" fill="#bfff40"/>
<rect x="1690.5" y="447.06" width="27.0" height="448.44" fill="#afff50"/>
<rect x="1690.5" y="459.88" width="27.0" height="435.62" fill="#9fff60"/>
<rect x="1690.5" y="472.69" width="27.0" height="422.81" fill="#8fff70"/>
<rect x="1690.5" y="485.50" width="27.0" height="410.00" fill="#80ff80"/>
<rect x="1690.5" y="498.31" width="27.0" height="397.19" fill="#70ff8f"/>
<rect x="1690.5" y="511.12" width="27.0" height="384.38" fill="#60ff9f"/>
<rect x="1690.5" y="523.94" width="27.0" height="371.56" fill="#50ffaf"/>
<rect x="1690.5" y="536.75" width="27.0" height="358.75" fill="#40ffbf"/>
<rect x="1690.5" y="549.56" width="27.0" height="345.94" fill="#30ffcf"/>
<rect x="1690.5" y="562.38" width="27.0" height="333.12" fill="#20ffdf"/>
<rect x="1690.5" y="575.19" width="27.0" height="320.31" fill="#10ffef"/>
<rect x="1690.5" y="588.00" width="27.0" height="307.50" fill="#00ffff"/>
<rect x="1690.5" y="600.81" width="27.0" height="294.69" fill="#00efff"/>
<rect x="1690.5" y="613.62" width="27.0" height="281.88" fill="#00dfff"/>
<rect x="1690.5" y="626.44" width="27.0" height="269.06" fill="#00cfff"/>
<rect x="1690.5" y="639.25" width="27.0" height="256.25" fill="#00bfff"/>
<rect x="1690.5" y="652.06" width="27.0" height="243.44" fill="#00afff"/>
<rect x="1690.5" y="664.88" width="27.0" height="230.62" fill="#009fff"/>
<rect x="1690.5" y="677.69" width="27.0" height="217.81" fill="#008fff"/>
<rect x="1690.5" y="690.50" width="27.0" height="205.00" fill="#0080ff"/>
<rect x="1690.5" y="703.31" width="27.0" height="192.19" fill="#0070ff"/>
<rect x="1690.5" y="716.12" width="27.0" height="179.38" fill="#0060ff"/>
<rect x="1690.5" y="728.94" width="27.0" height="166.56" fill="#0050ff"/>
<rect x="1690.5" y="741.75" width="27.0" height="153.75" fill="#0040ff"/>
<rect x="1690.5" y="754.56" width="27.0" height="140.94" fill="#0030ff"/>
<rect x="1690.5" y="767.38" width="27.0" height="128.12" fill="#0020ff"/>
<rect x="1690.5" y="780.19" width="27.0" height="115.31" fill="#0010ff"/>
<rect x="1690.5" y="793.00" width="27.0" height="102.50" fill="#0000ff"/>
<rect x="1690.5" y="805.81" width="27.0" height="89.69" fill="#0000ef"/>
<rect x="1690.5" y="818.62" width="27.0" height="76.88" fill="#0000df"/>
<rect x="1690.5" y="831.44" width="27.0" height="64.06" fill="#0000cf"/>
<rect x="1690.5" y="844.25" width="27.0" height="51.25" fill="#0000bf"/>
<rect x="1690.5" y="857.06" width="27.0" height="38.44" fill="#0000af"/>
<rect x="1690.5" y="869.88" width="27.0" height="25.62" fill="#00009f"/>
<rect x="1690.5" y="882.69" width="27.0" height="12.81" fill="#00008f"/>
<rect x="1690.5" y="75.5" width="27.0" height="820.0" fill="none" stroke="#000" stroke-width="1" shape-rendering="crispEdges"/>
<text x="1718.5" y="900.7">-6</text>
<text x="1718.5" y="786.7">-5.5</text>
<text x="1718.5" y="672.7">-5</text>
<text x="1718.5" y="558.7">-4.5</text>
<text x="1718.5" y="444.7">-4</text>
<text x="1718.5" y="331.7">-3.5</text>
<text x="1718.5" y="217.7">-3</text>
<text x="1718.5" y="103.7">-2.5</text>
<path d="M1690.5 781.5h7M1717.5 781.5h-7M1690.5 667.5h7M1717.5 667.5h-7M1690.5 553.5h7M1717.5 553.5h-7M1690.5 439.5h7M1717.5 439.5h-7M1690.5 326.5h7M1717.5 326.5h-7M1690.5 212.5h7M1717.5 212.5h-7M1690.5 98.5h7M1717.5 98.5h-7" stroke="#000" stroke-width="1" fill="none" shape-rendering="crispEdges"/>
</svg></body></html>
